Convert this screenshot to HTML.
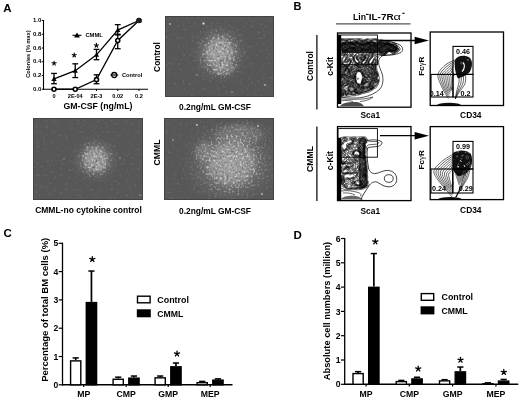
<!DOCTYPE html>
<html><head><meta charset="utf-8"><style>
html,body{margin:0;padding:0;background:#fff;}
svg{display:block;filter:grayscale(1);}
svg text{font-family:"Liberation Sans",sans-serif;font-weight:bold;fill:#000;}
</style></head><body>
<svg width="520" height="400" viewBox="0 0 520 400">
<text x="3.3" y="11.6" font-size="11.5" text-anchor="start">A</text>
<text x="293.6" y="9.8" font-size="11" text-anchor="start">B</text>
<text x="3.6" y="236.8" font-size="11.5" text-anchor="start">C</text>
<text x="293.6" y="239" font-size="11.5" text-anchor="start">D</text>
<line x1="43.5" y1="20" x2="43.5" y2="89.8" stroke="#000" stroke-width="1.1"/>
<line x1="43" y1="89.25" x2="148" y2="89.25" stroke="#000" stroke-width="1.1"/>
<line x1="41.8" y1="89.25" x2="43.5" y2="89.25" stroke="#000" stroke-width="1"/>
<text x="41.3" y="90.95" font-size="6" text-anchor="end">0.0</text>
<line x1="41.8" y1="75.5" x2="43.5" y2="75.5" stroke="#000" stroke-width="1"/>
<text x="41.3" y="77.2" font-size="6" text-anchor="end">0.2</text>
<line x1="41.8" y1="61.75" x2="43.5" y2="61.75" stroke="#000" stroke-width="1"/>
<text x="41.3" y="63.45" font-size="6" text-anchor="end">0.4</text>
<line x1="41.8" y1="48.0" x2="43.5" y2="48.0" stroke="#000" stroke-width="1"/>
<text x="41.3" y="49.7" font-size="6" text-anchor="end">0.6</text>
<line x1="41.8" y1="34.25" x2="43.5" y2="34.25" stroke="#000" stroke-width="1"/>
<text x="41.3" y="35.95" font-size="6" text-anchor="end">0.8</text>
<line x1="41.8" y1="20.5" x2="43.5" y2="20.5" stroke="#000" stroke-width="1"/>
<text x="41.3" y="22.2" font-size="6" text-anchor="end">1.0</text>
<line x1="54" y1="89.25" x2="54" y2="91" stroke="#000" stroke-width="1"/>
<text x="54" y="97.6" font-size="5.6" text-anchor="middle">0</text>
<line x1="75.25" y1="89.25" x2="75.25" y2="91" stroke="#000" stroke-width="1"/>
<text x="75.25" y="97.6" font-size="5.6" text-anchor="middle">2E-04</text>
<line x1="96.5" y1="89.25" x2="96.5" y2="91" stroke="#000" stroke-width="1"/>
<text x="96.5" y="97.6" font-size="5.6" text-anchor="middle">2E-3</text>
<line x1="117.75" y1="89.25" x2="117.75" y2="91" stroke="#000" stroke-width="1"/>
<text x="117.75" y="97.6" font-size="5.6" text-anchor="middle">0.02</text>
<line x1="139" y1="89.25" x2="139" y2="91" stroke="#000" stroke-width="1"/>
<text x="139" y="97.6" font-size="5.6" text-anchor="middle">0.2</text>
<text x="97.9" y="109.1" font-size="9.2" text-anchor="middle" textLength="69" lengthAdjust="spacingAndGlyphs">GM-CSF (ng/mL)</text>
<text x="30.4" y="54.1" font-size="5.7" text-anchor="middle" transform="rotate(-90 30.4 54.1)">Colonies (% max)</text>
<line x1="54" y1="83.75" x2="54" y2="73.4375" stroke="#000" stroke-width="1.3"/>
<line x1="51.1" y1="83.75" x2="56.9" y2="83.75" stroke="#000" stroke-width="1.3"/>
<line x1="51.1" y1="73.4375" x2="56.9" y2="73.4375" stroke="#000" stroke-width="1.3"/>
<line x1="75.25" y1="77.5625" x2="75.25" y2="63.8125" stroke="#000" stroke-width="1.3"/>
<line x1="72.35" y1="77.5625" x2="78.15" y2="77.5625" stroke="#000" stroke-width="1.3"/>
<line x1="72.35" y1="63.8125" x2="78.15" y2="63.8125" stroke="#000" stroke-width="1.3"/>
<line x1="96.5" y1="59.6875" x2="96.5" y2="49.375" stroke="#000" stroke-width="1.3"/>
<line x1="93.6" y1="59.6875" x2="99.4" y2="59.6875" stroke="#000" stroke-width="1.3"/>
<line x1="93.6" y1="49.375" x2="99.4" y2="49.375" stroke="#000" stroke-width="1.3"/>
<line x1="96.5" y1="83.75" x2="96.5" y2="74.8125" stroke="#000" stroke-width="1.3"/>
<line x1="93.6" y1="83.75" x2="99.4" y2="83.75" stroke="#000" stroke-width="1.3"/>
<line x1="93.6" y1="74.8125" x2="99.4" y2="74.8125" stroke="#000" stroke-width="1.3"/>
<line x1="117.75" y1="34.9375" x2="117.75" y2="24.625" stroke="#000" stroke-width="1.3"/>
<line x1="114.85" y1="34.9375" x2="120.65" y2="34.9375" stroke="#000" stroke-width="1.3"/>
<line x1="114.85" y1="24.625" x2="120.65" y2="24.625" stroke="#000" stroke-width="1.3"/>
<line x1="117.75" y1="48.6875" x2="117.75" y2="34.25" stroke="#000" stroke-width="1.3"/>
<line x1="114.85" y1="48.6875" x2="120.65" y2="48.6875" stroke="#000" stroke-width="1.3"/>
<line x1="114.85" y1="34.25" x2="120.65" y2="34.25" stroke="#000" stroke-width="1.3"/>
<polyline fill="none" stroke="#000" stroke-width="1.3" points="54,78.94 75.25,70.69 96.5,54.88 117.75,30.12 139,20.50"/>
<polyline fill="none" stroke="#000" stroke-width="1.3" points="54,89.25 75.25,89.25 96.5,79.62 117.75,40.44 139,20.50"/>
<circle cx="54" cy="89.25" r="2.0" fill="#fff" stroke="#000" stroke-width="1.6"/>
<circle cx="75.25" cy="89.25" r="2.0" fill="#fff" stroke="#000" stroke-width="1.6"/>
<circle cx="96.5" cy="79.625" r="2.0" fill="#fff" stroke="#000" stroke-width="1.6"/>
<circle cx="117.75" cy="40.4375" r="2.0" fill="#fff" stroke="#000" stroke-width="1.6"/>
<circle cx="139" cy="20.5" r="2.0" fill="#fff" stroke="#000" stroke-width="1.6"/>
<path d="M54,76.3375 L56.6,80.8875 L51.4,80.8875 Z" fill="#000"/>
<path d="M75.25,68.0875 L77.85,72.6375 L72.65,72.6375 Z" fill="#000"/>
<path d="M96.5,52.275 L99.1,56.825 L93.9,56.825 Z" fill="#000"/>
<path d="M117.75,27.525 L120.35,32.075 L115.15,32.075 Z" fill="#000"/>
<path d="M139,17.9 L141.6,22.45 L136.4,22.45 Z" fill="#000"/>
<circle cx="139" cy="20.5" r="2.6" fill="#222"/>
<path d="M54.10,63.30 L54.10,61.20 M54.10,63.30 L56.10,62.65 M54.10,63.30 L55.33,65.00 M54.10,63.30 L52.87,65.00 M54.10,63.30 L52.10,62.65 " stroke="#000" stroke-width="1.1" stroke-linecap="round" fill="none"/>
<path d="M74.20,55.20 L74.20,53.10 M74.20,55.20 L76.20,54.55 M74.20,55.20 L75.43,56.90 M74.20,55.20 L72.97,56.90 M74.20,55.20 L72.20,54.55 " stroke="#000" stroke-width="1.1" stroke-linecap="round" fill="none"/>
<path d="M96.40,45.40 L96.40,43.30 M96.40,45.40 L98.40,44.75 M96.40,45.40 L97.63,47.10 M96.40,45.40 L95.17,47.10 M96.40,45.40 L94.40,44.75 " stroke="#000" stroke-width="1.1" stroke-linecap="round" fill="none"/>
<line x1="72.5" y1="35.3" x2="81.5" y2="35.3" stroke="#000" stroke-width="1.1"/>
<path d="M77,32.4 L79.9,37.474999999999994 L74.1,37.474999999999994 Z" fill="#000"/>
<text x="85.4" y="37.1" font-size="5.8" text-anchor="start">CMML</text>
<line x1="110.3" y1="75" x2="118.2" y2="75" stroke="#000" stroke-width="1.1"/>
<circle cx="114.25" cy="75" r="2.5" fill="#fff" stroke="#000" stroke-width="1.3"/>
<line x1="112.2" y1="75" x2="116.3" y2="75" stroke="#000" stroke-width="1.2"/>
<text x="122" y="77.1" font-size="5.7" text-anchor="start">Control</text>
<defs>
<filter id="spkW" x="0" y="0" width="520" height="400" filterUnits="userSpaceOnUse" color-interpolation-filters="sRGB">
 <feTurbulence type="fractalNoise" baseFrequency="0.45" numOctaves="2" seed="3" result="t"/>
 <feColorMatrix in="t" type="matrix" values="0 0 0 0 0.82  0 0 0 0 0.82  0 0 0 0 0.82  4 0 0 0 -2.1" result="w"/>
 <feComposite in="w" in2="SourceGraphic" operator="in"/>
</filter>
<filter id="spkD" x="0" y="0" width="520" height="400" filterUnits="userSpaceOnUse" color-interpolation-filters="sRGB">
 <feTurbulence type="fractalNoise" baseFrequency="0.45" numOctaves="2" seed="3" result="t"/>
 <feColorMatrix in="t" type="matrix" values="0 0 0 0 0.35  0 0 0 0 0.35  0 0 0 0 0.35  -4 0 0 0 1.7" result="w"/>
 <feComposite in="w" in2="SourceGraphic" operator="in"/>
</filter>
<filter id="spkB" x="0" y="0" width="520" height="400" filterUnits="userSpaceOnUse" color-interpolation-filters="sRGB">
 <feTurbulence type="fractalNoise" baseFrequency="0.35" numOctaves="2" seed="9" result="t"/>
 <feColorMatrix in="t" type="matrix" values="0 0 0 0 0.75  0 0 0 0 0.75  0 0 0 0 0.75  0 6 0 0 -3.6" result="w"/>
 <feComposite in="w" in2="SourceGraphic" operator="in"/>
</filter>
<radialGradient id="glow"><stop offset="0" stop-color="#a4a4a4"/><stop offset="0.6" stop-color="#909090"/><stop offset="1" stop-color="#585858" stop-opacity="0"/></radialGradient>
<radialGradient id="mask"><stop offset="0" stop-color="#fff" stop-opacity="1"/><stop offset="0.6" stop-color="#fff" stop-opacity="0.8"/><stop offset="1" stop-color="#fff" stop-opacity="0"/></radialGradient>
</defs>
<defs><clipPath id="cg1"><rect x="165" y="16" width="109" height="81"/></clipPath></defs>
<rect x="165" y="16" width="109" height="81" fill="#575757"/>
<g clip-path="url(#cg1)">
<rect x="165" y="16" width="109" height="81" fill="#fff" filter="url(#spkB)" opacity="0.12"/>
<ellipse cx="219.5" cy="53" rx="32.0" ry="33.0" fill="url(#mask)" opacity="0.35" filter="url(#spkW)"/>
<ellipse cx="219.5" cy="53" rx="30.0" ry="30.799999999999997" fill="url(#glow)" opacity="0.25"/>
<ellipse cx="219.5" cy="53" rx="20" ry="22" fill="url(#glow)" opacity="1.0"/>
<ellipse cx="223" cy="68" rx="15" ry="10" fill="url(#glow)" opacity="0.55"/>
<ellipse cx="219.5" cy="53" rx="22.0" ry="24.200000000000003" fill="url(#mask)" opacity="1.0" filter="url(#spkW)"/>
<ellipse cx="219.5" cy="53" rx="18.0" ry="19.8" fill="url(#mask)" opacity="0.8" filter="url(#spkD)"/>
<ellipse cx="223" cy="68" rx="16.5" ry="11.0" fill="url(#mask)" opacity="0.55" filter="url(#spkW)"/>
<ellipse cx="223" cy="68" rx="13.5" ry="9.0" fill="url(#mask)" opacity="0.44000000000000006" filter="url(#spkD)"/>
<circle cx="203.5" cy="23.5" r="1.2" fill="#c8c8c8"/>
<circle cx="170" cy="24" r="0.9" fill="#b4b4b4"/>
<circle cx="166" cy="37" r="0.8" fill="#aaaaaa"/>
<circle cx="265" cy="85" r="0.9" fill="#b4b4b4"/>
<circle cx="232" cy="92" r="0.8" fill="#aaaaaa"/>
<circle cx="197" cy="75" r="0.8" fill="#aaaaaa"/>
</g>
<rect x="165.5" y="16.5" width="108" height="80" fill="none" stroke="#444" stroke-width="1"/>
<defs><clipPath id="cg2"><rect x="33" y="118" width="110" height="82"/></clipPath></defs>
<rect x="33" y="118" width="110" height="82" fill="#575757"/>
<g clip-path="url(#cg2)">
<rect x="33" y="118" width="110" height="82" fill="#fff" filter="url(#spkB)" opacity="0.12"/>
<ellipse cx="95.5" cy="159.5" rx="26.400000000000002" ry="25.5" fill="url(#mask)" opacity="0.35" filter="url(#spkW)"/>
<ellipse cx="95.5" cy="159.5" rx="24.75" ry="23.799999999999997" fill="url(#glow)" opacity="0.25"/>
<ellipse cx="95.5" cy="159.5" rx="16.5" ry="17" fill="url(#glow)" opacity="1.0"/>
<ellipse cx="99" cy="166" rx="9" ry="8" fill="url(#glow)" opacity="0.5"/>
<ellipse cx="95.5" cy="159.5" rx="18.150000000000002" ry="18.700000000000003" fill="url(#mask)" opacity="1.0" filter="url(#spkW)"/>
<ellipse cx="95.5" cy="159.5" rx="14.85" ry="15.3" fill="url(#mask)" opacity="0.8" filter="url(#spkD)"/>
<ellipse cx="99" cy="166" rx="9.9" ry="8.8" fill="url(#mask)" opacity="0.5" filter="url(#spkW)"/>
<ellipse cx="99" cy="166" rx="8.1" ry="7.2" fill="url(#mask)" opacity="0.4" filter="url(#spkD)"/>
<circle cx="120" cy="158" r="0.8" fill="#aaaaaa"/>
<circle cx="64" cy="159" r="0.7" fill="#969696"/>
<circle cx="140" cy="195" r="0.8" fill="#a0a0a0"/>
</g>
<rect x="33.5" y="118.5" width="109" height="81" fill="none" stroke="#444" stroke-width="1"/>
<defs><clipPath id="cg3"><rect x="164" y="118" width="110" height="82"/></clipPath></defs>
<rect x="164" y="118" width="110" height="82" fill="#575757"/>
<g clip-path="url(#cg3)">
<rect x="164" y="118" width="110" height="82" fill="#fff" filter="url(#spkB)" opacity="0.12"/>
<ellipse cx="231" cy="163" rx="54.400000000000006" ry="48.0" fill="url(#mask)" opacity="0.35" filter="url(#spkW)"/>
<ellipse cx="231" cy="163" rx="51.0" ry="44.8" fill="url(#glow)" opacity="0.25"/>
<ellipse cx="231" cy="163" rx="34" ry="32" fill="url(#glow)" opacity="1.0"/>
<ellipse cx="240" cy="134" rx="32" ry="14" fill="url(#glow)" opacity="0.35"/>
<ellipse cx="204" cy="152" rx="12" ry="14" fill="url(#glow)" opacity="0.4"/>
<ellipse cx="231" cy="163" rx="37.400000000000006" ry="35.2" fill="url(#mask)" opacity="1.0" filter="url(#spkW)"/>
<ellipse cx="231" cy="163" rx="30.6" ry="28.8" fill="url(#mask)" opacity="0.8" filter="url(#spkD)"/>
<ellipse cx="240" cy="134" rx="35.2" ry="15.400000000000002" fill="url(#mask)" opacity="0.35" filter="url(#spkW)"/>
<ellipse cx="240" cy="134" rx="28.8" ry="12.6" fill="url(#mask)" opacity="0.27999999999999997" filter="url(#spkD)"/>
<ellipse cx="204" cy="152" rx="13.200000000000001" ry="15.400000000000002" fill="url(#mask)" opacity="0.4" filter="url(#spkW)"/>
<ellipse cx="204" cy="152" rx="10.8" ry="12.6" fill="url(#mask)" opacity="0.32000000000000006" filter="url(#spkD)"/>
<circle cx="197" cy="125" r="1" fill="#bebebe"/>
<circle cx="173" cy="140" r="0.8" fill="#aaaaaa"/>
<circle cx="262" cy="194" r="1" fill="#b4b4b4"/>
<circle cx="258" cy="126" r="1" fill="#bebebe"/>
</g>
<rect x="164.5" y="118.5" width="109" height="81" fill="none" stroke="#444" stroke-width="1"/>
<text x="160" y="57" font-size="8.4" text-anchor="middle" transform="rotate(-90 160 57)">Control</text>
<text x="159.5" y="152.5" font-size="8.6" text-anchor="middle" transform="rotate(-90 159.5 152.5)">CMML</text>
<text x="215" y="109.8" font-size="8.4" text-anchor="middle">0.2ng/mL GM-CSF</text>
<text x="88.5" y="213.4" font-size="8.5" text-anchor="middle">CMML-no cytokine control</text>
<text x="215" y="213.6" font-size="8.4" text-anchor="middle">0.2ng/mL GM-CSF</text>
<text x="353" y="20.1" font-size="8.9" textLength="13" lengthAdjust="spacingAndGlyphs">Lin</text>
<line x1="366" y1="14.4" x2="368.6" y2="14.4" stroke="#000" stroke-width="1.1"/>
<text x="368.8" y="20.1" font-size="9.2" textLength="24.8" lengthAdjust="spacingAndGlyphs">IL-7R</text>
<text x="393.6" y="20.1" font-size="9" font-weight="normal" textLength="7.4" lengthAdjust="spacingAndGlyphs" style="font-weight:normal">α</text>
<line x1="402.3" y1="13.3" x2="404.6" y2="13.3" stroke="#000" stroke-width="1.1"/>
<line x1="336" y1="23.8" x2="410.5" y2="23.8" stroke="#555" stroke-width="1.3"/>
<line x1="316.9" y1="35" x2="316.9" y2="109.5" stroke="#000" stroke-width="1.2"/>
<line x1="316.9" y1="126.5" x2="316.9" y2="201" stroke="#000" stroke-width="1.2"/>
<text x="313" y="66" font-size="8.4" text-anchor="middle" transform="rotate(-90 313 66)">Control</text>
<text x="313" y="159" font-size="8.6" text-anchor="middle" transform="rotate(-90 313 159)">CMML</text>
<text x="332.6" y="66.3" font-size="8.6" text-anchor="middle" transform="rotate(-90 332.6 66.3)">c-Kit</text>
<text x="370.3" y="118.2" font-size="8.4" text-anchor="middle">Sca1</text>
<text x="470.8" y="118.2" font-size="8.4" text-anchor="middle">CD34</text>
<text x="332.6" y="160.6" font-size="8.6" text-anchor="middle" transform="rotate(-90 332.6 160.6)">c-Kit</text>
<text x="370.3" y="214" font-size="8.4" text-anchor="middle">Sca1</text>
<text x="470.8" y="212.8" font-size="8.4" text-anchor="middle">CD34</text>
<text x="0" y="0" font-size="8.1" text-anchor="middle" transform="translate(423.9 66.2) rotate(-90)">Fc<tspan font-family="Liberation Serif" font-weight="normal" font-size="8.8">γ</tspan>R</text>
<text x="0" y="0" font-size="8.1" text-anchor="middle" transform="translate(423.9 159.79579999999999) rotate(-90)">Fc<tspan font-family="Liberation Serif" font-weight="normal" font-size="8.8">γ</tspan>R</text>
<defs><clipPath id="clipL0"><rect x="338" y="36.6" width="73" height="70"/></clipPath></defs>
<g clip-path="url(#clipL0)"><path d="M340,106.3 C342,102.5 350,101.5 357,102 C361,103 363,104.5 364,106.3 Z" fill="#000" opacity="0.7"/><path d="M342,42 C360,40.5 380,41.5 392,44 C398,46 399,49.5 394,51.5 C385,53.5 365,53 342,53 Z" fill="#000" opacity="0.75"/><path d="M341,66 L376,64 L377,78 L376,86 L369,91 L355,95 L341,96 Z" fill="#000" opacity="0.4"/><ellipse cx="359" cy="78" rx="3" ry="6" fill="#fff"/><ellipse cx="347" cy="88" rx="3" ry="2" fill="#fff"/><path d="M338.0,40.0 338.5,39.7 339.5,38.7 340.5,38.5 344.8,38.8 351.8,38.6 354.5,38.8 357.0,38.6 360.5,38.6 361.5,38.8 363.6,39.5 364.2,39.5 365.0,39.4 366.5,38.8 367.5,38.6 368.5,38.7 370.0,39.2 370.8,39.2 373.5,38.6 376.5,38.7 377.5,39.0 379.2,39.7 381.0,39.7 383.0,40.2 385.0,40.4 388.5,41.5 390.2,41.9 392.5,42.0 394.0,42.5 396.0,43.6 397.5,45.0 399.9,48.0 400.1,48.5 400.2,49.0 399.7,50.2 398.8,51.3 395.2,53.9 394.0,54.6 393.2,54.7 391.8,54.5 389.5,55.0 388.8,54.9 387.8,54.6 387.5,54.6 386.2,55.3 385.2,55.5 381.5,55.5 379.8,55.3 379.3,55.5 379.0,55.7 378.6,57.0 377.5,58.2 377.0,59.3 376.9,60.5 376.9,65.0 376.5,67.2 377.2,70.6 378.7,74.5 378.9,76.5 379.4,78.2 379.4,79.7 379.1,81.7 378.1,84.7 376.4,87.5 375.5,88.1 374.0,88.9 372.0,90.4 369.2,91.9 361.5,94.0 358.8,94.9 356.5,95.3 354.5,95.9 352.0,95.8 350.0,96.3 346.8,96.4 344.2,97.0 342.5,97.3 341.2,97.0 339.8,96.0 339.4,95.5 339.4,94.7 339.8,93.5 340.7,92.2 339.9,91.0 339.0,88.0 339.2,85.5 338.8,84.0 338.7,82.7 339.0,76.0 338.9,74.5 339.0,72.3 338.5,69.2 338.0,67.0M343.3,61.0 343.8,60.7 344.8,59.7 345.4,58.7 345.5,57.2 346.2,56.0 346.1,55.5 345.8,55.2 345.5,55.2 345.2,55.5 344.9,56.0 344.6,57.0 343.2,58.1 342.6,59.2 342.5,60.0 342.6,60.5 343.0,60.9 343.3,61.0ZM370.6,63.5 372.1,62.0 373.8,58.5 374.7,57.2 374.9,56.5 374.5,55.9 374.0,55.8 373.3,56.2 372.3,57.7 370.7,59.2 369.5,61.2 369.2,62.2 369.4,63.2 369.8,63.6 370.0,63.7 370.6,63.5ZM366.5,58.5 367.3,57.2 367.4,56.7 367.0,56.3 366.7,56.5 366.4,57.0 366.2,58.5 366.5,58.5ZM357.8,63.0 358.2,62.7 358.5,62.2 358.5,61.5 357.2,60.3 356.8,59.7 356.2,58.7 355.8,57.3 355.5,57.0 355.2,56.9 354.8,57.0 354.5,57.3 354.5,58.0 354.7,59.7 355.1,60.7 355.6,61.5 356.8,62.6 357.2,62.9 357.8,63.0ZM363.7,63.7 364.2,63.2 365.6,61.5 365.8,60.7 365.8,59.9 365.5,59.8 365.0,60.1 362.6,61.7 362.2,62.0 362.1,62.7 362.5,63.5 363.0,63.8 363.7,63.7ZM338.0,66.6 338.4,64.5 338.3,61.5 338.0,60.7M347.8,65.2 348.5,64.6 349.7,62.7 350.0,61.5 350.0,61.1 349.8,60.8 349.2,60.7 348.9,61.0 348.1,62.5 346.9,64.0 346.8,64.5 347.0,65.0 347.3,65.2 347.8,65.2ZM347.5,73.7 348.1,72.0 348.1,70.7 347.8,69.5 347.4,69.2 347.0,69.1 346.5,69.3 346.2,70.0 346.4,70.5 347.1,71.7 347.4,72.5 347.2,72.9 346.7,73.5 346.8,73.7 347.2,73.8 347.5,73.7ZM360.8,84.2 361.0,83.7 362.2,79.0 363.0,77.5 363.1,77.0 361.0,72.4 360.5,72.0 359.2,71.5 358.2,71.4 357.5,71.7 357.0,72.2 355.7,75.0 355.8,75.6 356.2,77.0 356.0,78.7 356.3,79.7 356.4,81.7 356.8,82.5 357.5,83.2 360.0,84.3 360.5,84.4 360.8,84.2ZM358.2,79.2 357.4,79.2 357.3,79.0 357.3,78.7 357.8,78.3 358.5,78.4 358.8,78.7 358.7,79.0 358.2,79.2ZM366.6,86.5 367.2,86.3 367.8,86.0 368.7,84.7 368.9,84.2 368.9,83.7 368.5,83.2 367.8,82.7 367.0,82.4 366.2,82.5 365.6,83.0 364.1,84.7 363.6,85.7 363.7,86.2 364.5,86.6 365.2,86.7 366.6,86.5ZM352.3,91.2 353.0,90.8 353.5,90.2 354.0,89.5 354.1,88.7 353.5,88.0 352.5,87.2 351.5,87.0 350.8,87.1 350.0,87.7 349.7,88.5 349.7,89.2 350.0,90.5 350.3,91.0 350.8,91.3 351.5,91.4 352.3,91.2ZM342.5,96.2 341.8,96.4 341.2,96.2 340.6,95.7 340.3,95.2 340.3,94.5 340.5,93.7 341.8,92.2 341.6,91.7 340.8,91.0 340.4,90.2 340.1,88.0 340.4,86.5 340.4,86.0 339.6,84.0 339.5,83.2 339.6,80.7 339.9,79.2 339.7,77.5 340.0,75.5 339.8,71.7 339.6,69.5 338.9,67.0 339.3,65.0 339.2,63.0 339.5,60.7 339.2,59.0 339.2,57.0 339.4,55.5 339.1,53.7 339.1,51.2 338.9,49.5 339.1,48.0 339.6,46.2 339.5,45.6 338.7,45.0 338.5,44.0 339.4,41.0 340.0,39.5 340.8,39.3 346.0,39.8 349.5,39.4 351.5,39.4 353.2,39.7 355.8,39.9 357.5,39.5 359.2,39.5 360.5,39.6 362.2,40.3 363.5,40.4 364.8,40.2 367.5,39.3 368.5,39.4 369.8,40.1 371.8,40.0 373.0,39.5 373.8,39.4 376.2,39.5 377.2,39.7 378.8,40.7 381.2,40.6 381.8,40.9 382.5,41.6 382.8,41.7 383.8,41.2 384.5,41.2 384.9,41.5 385.5,42.1 387.2,42.1 388.5,42.4 391.2,43.7 393.2,43.5 394.2,43.6 395.5,44.2 396.7,45.2 397.4,46.2 398.0,47.7 399.1,49.0 399.0,49.7 398.8,50.2 398.2,50.7 394.2,53.6 393.5,53.8 392.5,53.6 391.7,53.2 389.9,51.7 389.0,51.5 388.2,51.7 387.8,52.0 387.3,52.5 386.5,54.0 385.8,54.7 384.2,54.9 382.2,54.4 379.2,54.5 378.5,54.8 377.4,55.5 377.0,56.0 376.7,56.7 376.2,57.1 376.1,56.2 375.7,55.7 374.5,55.1 373.8,55.0 373.0,55.6 371.8,57.7 370.3,59.0 369.0,61.0 368.7,62.2 369.0,63.5 369.5,64.2 369.8,64.4 370.2,64.4 370.8,64.0 372.6,62.0 374.5,58.5 375.5,57.7 375.8,57.5 376.0,57.6 376.1,60.7 376.1,64.5 375.6,66.7 375.6,68.0 376.2,70.5 377.9,74.0 378.1,74.7 378.1,75.5 377.9,77.0 377.2,78.2 377.4,78.5 378.4,79.2 378.6,80.2 378.3,82.0 377.0,84.7 376.5,85.6 375.3,87.0 372.2,89.4 370.2,90.2 369.0,91.0 367.5,91.3 365.8,92.1 363.5,92.3 358.8,94.2 357.8,94.2 356.8,93.7 356.1,93.7 355.4,94.7 354.5,95.1 353.8,95.1 352.0,94.5 350.5,94.6 349.5,94.0 349.0,93.9 347.5,95.1 346.5,95.4 345.8,95.4 345.2,95.0 344.8,92.6 344.5,92.2 344.2,92.2 343.7,93.5 343.7,95.5 343.2,95.9 342.5,96.2ZM348.1,65.7 348.6,65.2 350.2,62.7 350.6,61.2 350.5,60.7 350.2,60.3 349.5,60.0 348.8,60.3 347.8,62.0 347.2,62.5 346.8,62.8 344.5,62.7 343.6,62.5 343.7,62.0 344.1,61.2 345.9,59.0 346.8,56.5 346.9,55.7 346.6,55.0 346.2,54.6 345.8,54.5 345.0,54.9 344.4,55.5 343.8,56.6 342.7,57.7 341.7,59.5 341.6,60.0 342.5,61.7 343.2,62.5 343.4,63.7 343.9,64.5 344.5,64.8 345.8,65.1 347.2,65.8 347.8,65.8 348.1,65.7ZM363.4,64.5 364.2,64.1 366.2,61.5 366.7,59.7 368.1,57.2 368.3,56.7 368.1,56.0 367.5,55.3 366.8,55.2 366.1,55.7 365.7,56.5 365.6,58.2 365.1,59.2 363.8,60.5 362.0,61.6 361.6,62.0 361.6,62.7 362.2,64.0 362.8,64.4 363.4,64.5ZM358.3,63.2 359.0,62.2 359.2,61.7 359.2,61.2 358.8,60.7 357.5,59.9 356.8,59.0 356.4,58.0 356.5,56.2 356.2,56.0 355.8,56.0 354.2,56.5 353.9,56.7 353.8,57.2 354.4,60.2 354.8,61.2 355.4,62.0 357.0,63.2 357.8,63.4 358.3,63.2ZM372.9,68.2 373.2,68.0 373.3,67.5 373.0,66.7 372.5,66.4 371.2,66.2 371.8,68.0 372.2,68.3 372.9,68.2ZM347.6,75.0 348.8,74.7 348.6,70.7 348.4,69.7 348.0,69.0 347.5,68.7 346.8,68.6 346.2,68.8 345.9,69.2 345.7,69.7 345.6,71.2 344.6,72.2 344.3,73.0 344.7,73.5 346.5,74.8 347.0,75.0 347.6,75.0ZM361.0,85.5 361.5,85.2 361.6,83.0 362.9,78.7 363.5,78.2 364.7,78.2 364.8,78.0 364.5,77.2 363.2,75.9 362.5,74.7 361.8,72.5 361.5,71.9 360.8,71.4 358.8,70.9 358.0,70.9 356.8,71.5 356.1,72.2 355.3,75.0 355.6,77.0 355.3,79.0 355.7,80.2 356.1,82.2 356.7,83.2 358.0,84.2 361.0,85.5ZM370.7,76.5 371.0,76.0 371.1,75.5 370.8,74.7 370.0,74.1 369.2,74.2 369.0,74.5 369.0,75.0 369.4,76.0 370.0,76.6 370.2,76.6 370.7,76.5ZM373.2,79.5 372.6,79.0 372.0,78.6 371.6,78.7 371.4,79.0 371.5,79.2 372.0,79.4 373.0,79.5 373.2,79.5ZM366.1,79.2 365.8,78.9 365.5,79.0 365.8,79.2 366.1,79.2ZM367.1,87.2 368.0,87.0 368.5,86.5 369.5,84.7 369.6,83.5 369.2,82.3 369.0,82.1 367.0,81.9 366.0,82.1 365.3,82.7 362.5,85.7 362.6,86.0 363.0,86.5 364.5,87.4 365.2,87.4 367.1,87.2ZM347.5,83.2 347.8,82.7 347.5,82.5 347.2,82.6 347.1,83.0 347.2,83.3 347.5,83.2ZM352.3,84.0 352.6,83.7 352.6,83.5 352.5,83.2 351.8,82.9 351.5,83.0 351.2,83.2 351.4,83.7 351.7,84.0 352.3,84.0ZM352.7,91.7 353.2,91.3 354.7,89.5 354.9,89.0 354.9,88.5 354.4,88.0 352.2,86.5 351.2,86.2 350.2,86.4 349.4,87.2 348.9,88.5 349.0,89.2 349.8,91.3 350.2,91.7 350.8,91.9 351.8,91.9 352.7,91.7ZM342.0,96.0 341.5,96.0 341.0,95.8 340.7,95.5 340.6,95.0 340.6,94.2 340.8,93.7 341.9,92.7 342.2,92.2 342.0,91.7 341.0,90.9 340.6,90.2 340.4,88.2 341.0,86.5 340.0,84.2 339.7,83.5 339.9,80.7 340.4,79.0 340.0,77.5 340.2,75.5 339.8,69.2 339.2,67.0 339.3,66.5 339.7,65.2 339.4,63.2 339.5,62.2 339.8,61.4 340.2,60.6 340.8,60.4 341.2,60.5 341.8,61.0 342.6,62.7 343.0,64.0 343.7,64.7 344.8,65.3 347.8,66.1 348.2,65.9 348.5,65.7 350.2,63.2 350.6,62.0 350.8,61.0 350.7,60.5 350.2,60.0 349.2,59.8 348.5,60.1 347.7,61.7 347.0,62.3 345.8,62.0 344.8,62.2 344.3,62.0 344.3,61.7 344.4,61.2 346.1,59.0 347.2,56.5 347.1,55.5 346.2,54.0 345.8,54.1 344.4,55.2 343.5,56.4 342.5,57.2 341.8,58.6 341.2,58.9 340.8,58.9 340.5,58.9 340.2,58.7 340.0,57.0 340.1,55.7 339.5,54.3 339.3,53.5 339.3,51.0 339.2,49.2 339.4,48.0 339.9,46.5 340.1,44.7 340.3,44.2 339.5,44.4 339.2,44.2 339.2,43.7 339.6,42.5 339.9,40.7 340.2,39.9 340.8,39.7 342.0,39.9 343.8,39.9 345.5,40.2 347.8,40.1 349.2,39.7 350.2,39.7 351.8,39.8 353.2,40.2 354.8,40.2 356.2,40.7 357.9,40.0 359.5,39.8 360.2,39.9 361.8,40.5 363.5,40.7 364.5,40.6 367.0,39.7 367.8,39.6 368.3,39.7 368.8,40.2 368.7,40.5 368.1,41.2 368.0,41.7 368.2,42.0 369.0,42.2 369.5,41.9 369.7,40.7 370.1,40.5 372.0,40.3 373.8,39.7 375.0,39.8 376.2,39.8 377.2,40.1 378.5,41.1 381.0,41.0 381.5,41.2 382.2,42.0 382.8,42.2 384.2,41.8 385.2,42.5 387.0,42.4 388.0,42.6 389.2,43.0 390.8,43.9 391.5,44.1 394.5,44.1 395.5,44.5 396.3,45.2 396.8,46.0 397.5,47.5 398.6,49.0 398.7,49.7 398.0,50.5 397.0,51.1 394.2,53.2 393.5,53.4 392.8,53.3 392.2,53.0 391.2,52.0 390.3,51.5 389.8,51.2 389.0,51.2 388.2,51.3 387.5,51.8 386.2,53.9 385.8,54.4 385.2,54.6 384.0,54.6 382.2,54.1 379.5,54.1 378.8,54.3 377.2,54.9 376.0,55.1 375.2,54.9 374.5,54.5 374.4,54.0 375.2,53.1 375.4,52.7 375.2,52.4 374.8,52.3 374.2,52.7 374.0,53.1 371.9,57.2 371.5,57.7 370.1,58.7 368.8,60.7 368.5,61.5 368.5,62.2 368.8,63.5 369.3,64.7 369.3,65.7 369.7,66.2 370.8,67.0 371.7,68.5 372.0,68.6 372.5,68.7 373.1,68.5 373.6,68.0 373.7,67.5 373.6,67.0 373.2,66.4 371.9,65.7 371.1,65.0 370.9,64.7 371.0,64.2 371.5,63.5 373.0,61.7 374.5,59.0 375.2,58.5 375.5,58.6 375.7,59.2 375.8,60.7 375.7,62.5 375.7,64.2 375.3,67.0 375.4,68.5 375.8,70.7 377.0,72.7 377.7,74.2 377.9,75.0 377.6,76.7 377.2,77.2 376.6,77.7 376.5,78.2 376.8,78.7 377.8,79.3 378.2,79.7 378.3,80.7 378.0,82.1 376.2,85.2 375.5,85.6 374.0,85.6 373.8,85.7 374.1,87.2 373.4,88.2 371.8,89.4 370.0,89.7 368.9,90.5 367.5,90.7 366.0,91.6 363.5,91.8 362.0,92.6 360.5,93.0 359.0,93.8 358.2,93.9 357.2,93.4 356.5,93.3 355.2,93.4 355.1,93.5 354.9,94.5 354.2,94.7 352.2,94.0 351.0,94.1 350.5,94.1 349.2,93.0 348.5,93.4 347.8,94.5 347.2,94.9 346.5,95.1 346.0,95.1 345.8,94.9 345.4,94.5 345.0,91.8 344.8,91.3 344.2,91.0 343.9,91.2 343.6,92.0 343.4,93.2 343.4,94.7 343.3,95.2 342.8,95.7 342.0,96.0ZM353.8,51.5 354.0,51.0 353.8,50.4 353.5,50.4 353.4,51.0 353.5,51.5 353.8,51.5ZM368.9,52.5 369.1,52.2 369.1,52.0 369.0,51.8 368.8,51.7 368.4,52.0 368.3,52.2 368.5,52.4 368.9,52.5ZM364.6,66.5 365.0,65.7 365.0,65.2 364.8,64.5 365.0,63.5 365.5,62.7 366.4,61.7 367.1,59.5 368.6,57.0 368.6,56.5 368.4,55.7 368.0,55.1 367.5,54.8 367.0,54.8 366.5,54.9 365.7,55.7 365.4,56.5 365.3,58.2 364.6,59.5 363.5,60.5 361.7,61.5 361.3,62.0 361.4,62.7 362.0,64.0 362.8,64.6 363.9,65.0 364.1,65.2 364.2,66.5 364.6,66.5ZM341.6,55.7 341.5,55.2 341.2,55.3 341.1,55.7 341.2,55.8 341.5,55.8 341.6,55.7ZM358.2,63.5 358.8,63.0 359.3,62.2 359.6,61.7 359.6,61.2 359.2,60.5 357.8,59.9 356.8,58.7 356.6,57.7 357.0,56.2 356.9,55.7 356.8,55.5 356.2,55.5 353.8,56.3 353.6,56.5 353.5,57.0 354.2,60.5 354.7,61.5 355.4,62.2 357.0,63.4 357.8,63.6 358.2,63.5ZM360.3,59.5 360.5,59.0 360.4,58.7 360.0,58.6 359.7,59.0 359.8,59.4 360.0,59.6 360.3,59.5ZM341.6,66.7 341.6,66.2 341.4,66.0 341.0,65.9 340.8,66.1 340.8,66.5 341.0,66.9 341.2,66.9 341.6,66.7ZM349.5,76.5 350.0,76.0 350.0,75.5 349.8,74.7 349.2,73.5 348.8,70.5 348.5,69.5 348.2,68.9 347.8,68.5 347.0,68.4 346.4,68.5 346.0,68.7 345.6,69.2 345.4,70.7 345.1,71.2 343.8,72.5 343.5,73.2 344.0,73.8 345.2,74.3 346.8,75.3 348.0,75.5 349.0,76.4 349.5,76.5ZM351.8,69.2 352.4,68.7 352.4,68.5 352.2,68.3 351.5,68.3 351.0,68.7 351.1,69.0 351.2,69.2 351.8,69.2ZM365.4,88.2 366.2,87.7 368.1,87.2 369.0,86.3 369.6,85.2 369.9,84.2 370.1,81.7 370.0,81.1 369.8,80.9 369.2,80.9 368.2,81.5 366.8,81.6 366.0,81.9 365.2,82.5 363.2,84.7 362.8,85.0 362.2,85.0 362.0,84.8 361.8,84.3 361.7,83.2 363.0,79.2 363.2,78.8 363.5,78.7 364.0,78.7 365.8,79.9 366.5,80.2 366.8,80.2 367.2,80.0 367.3,79.7 367.2,79.2 365.5,78.0 364.6,76.7 363.2,75.5 362.5,74.2 361.8,71.7 361.5,71.3 358.8,70.6 358.0,70.6 354.1,72.2 353.8,72.7 354.0,72.9 355.2,72.9 355.4,73.2 355.0,75.0 355.4,77.2 355.0,79.0 355.5,80.5 355.9,82.2 356.2,83.0 357.5,84.2 359.8,85.2 360.6,86.2 361.8,86.2 362.2,86.3 365.0,88.2 365.4,88.2ZM367.5,72.5 368.0,72.1 368.4,71.5 368.3,71.2 368.1,71.0 367.5,70.8 367.0,71.0 366.7,71.7 366.8,72.2 367.5,72.5ZM373.9,80.2 374.1,79.7 373.8,79.2 371.3,77.5 371.8,75.5 371.6,75.0 371.0,74.2 370.2,73.6 369.2,73.6 368.8,73.8 368.5,74.2 368.5,74.7 369.0,76.1 369.6,77.0 370.9,77.7 370.6,79.2 370.7,79.7 373.5,80.3 373.9,80.2ZM347.4,84.0 348.1,83.5 348.6,82.7 348.5,82.2 348.2,81.9 347.8,81.7 347.2,81.8 346.8,82.2 346.3,83.2 346.3,83.7 346.4,84.0 346.8,84.1 347.4,84.0ZM352.4,84.5 353.1,84.0 353.2,83.5 353.0,83.1 352.4,82.7 351.5,82.5 351.0,82.5 350.6,82.7 350.6,83.2 351.2,84.3 351.8,84.6 352.4,84.5ZM352.4,92.2 353.2,92.1 353.8,91.0 355.1,89.2 355.3,88.5 354.8,87.8 352.0,86.1 351.2,85.7 350.8,85.8 350.0,86.2 349.2,86.9 348.6,88.2 348.6,89.0 349.2,90.5 349.5,91.9 349.8,92.2 352.4,92.2ZM359.0,93.3 358.5,93.4 355.0,92.8 354.4,92.5 354.0,92.0 353.9,91.5 354.1,91.0 355.6,89.0 355.7,88.2 355.2,87.5 353.5,86.7 352.2,85.7 352.2,85.2 353.3,84.5 353.7,84.0 353.6,83.2 352.8,82.5 351.0,82.0 349.5,81.9 348.0,81.3 347.2,81.3 346.4,82.0 345.5,83.3 344.2,83.5 344.0,83.7 343.2,85.6 342.2,86.6 341.2,85.9 340.1,84.0 340.0,83.0 340.3,80.7 340.5,80.1 341.3,79.2 341.4,79.0 340.5,77.9 340.3,77.2 340.5,73.5 340.2,70.2 340.2,68.2 340.2,67.9 340.5,67.8 342.1,67.5 342.3,67.2 342.4,66.7 342.1,66.0 341.8,65.5 340.5,65.3 340.2,65.2 340.0,64.8 339.6,63.2 339.9,62.0 340.5,61.2 341.0,61.0 341.2,61.1 341.6,61.5 342.0,62.2 342.8,64.2 343.4,65.0 344.8,65.6 348.0,66.3 348.5,66.1 348.8,65.8 349.4,64.7 350.4,63.2 351.0,61.0 350.9,60.2 350.5,59.8 349.8,59.5 349.0,59.4 348.5,59.6 348.2,59.8 347.7,61.2 347.2,61.7 346.8,61.8 346.0,61.5 344.9,61.5 345.0,61.0 347.0,58.2 348.1,56.2 347.5,55.6 346.9,54.5 346.9,53.7 347.4,52.2 347.3,51.7 347.0,51.5 346.5,51.5 346.0,52.0 345.7,53.5 345.5,54.0 343.5,55.7 343.0,56.0 342.6,55.7 342.0,54.2 341.5,54.1 340.5,54.6 340.2,54.6 339.8,54.0 339.5,52.7 339.7,50.7 339.5,48.7 340.5,45.2 341.1,44.2 341.2,43.7 341.0,43.2 340.4,42.5 340.3,42.0 340.2,41.2 340.5,40.5 341.0,40.3 342.0,40.5 343.5,40.2 345.0,40.7 346.8,40.4 348.2,40.6 349.2,40.0 350.0,40.0 350.9,40.2 351.1,40.5 350.0,41.2 349.8,41.5 350.1,41.7 350.9,42.0 352.0,42.0 352.8,41.8 353.3,41.0 354.2,40.5 354.8,40.6 355.8,41.2 356.2,41.2 357.2,41.0 358.8,40.3 359.5,40.2 361.5,40.8 363.8,41.1 367.5,39.9 367.8,40.0 368.1,40.2 367.4,41.5 367.4,42.0 368.0,42.3 369.0,42.5 369.8,42.2 370.2,41.0 370.5,40.7 372.5,40.7 373.8,40.5 374.5,40.6 375.8,40.2 376.5,40.1 377.2,40.5 377.5,41.0 377.8,41.8 378.0,41.9 379.5,41.4 380.8,41.3 381.2,41.5 382.2,42.4 382.8,42.6 384.0,42.5 385.2,43.0 386.8,42.7 387.8,42.8 389.2,43.2 391.2,44.4 393.0,44.6 394.5,44.4 395.6,45.0 396.1,45.5 396.6,46.7 398.1,49.0 398.3,49.5 398.2,49.7 397.8,50.2 395.8,51.7 393.8,53.0 393.2,53.1 392.8,52.9 391.8,51.9 390.6,51.2 389.8,50.9 389.0,50.9 388.2,51.0 387.5,51.5 387.0,52.0 386.1,53.7 385.2,54.3 384.0,54.4 382.2,53.7 380.8,53.8 379.2,53.6 377.8,54.2 376.0,54.4 375.5,54.2 375.5,54.0 376.0,53.4 376.2,53.0 376.2,52.5 375.8,52.0 375.5,51.8 375.0,51.7 374.5,51.9 374.0,52.3 372.5,55.2 371.8,57.1 371.2,57.6 369.9,58.5 368.4,61.0 368.2,62.0 368.7,64.5 368.5,65.7 368.8,66.2 370.5,67.3 371.4,68.7 371.8,68.9 372.8,68.9 373.6,68.5 374.1,67.7 373.9,66.7 373.5,66.1 371.8,65.0 371.5,64.7 371.4,64.2 371.7,63.5 373.8,61.2 374.5,59.8 375.0,59.4 375.2,59.6 375.4,60.5 375.2,62.0 375.4,64.0 374.9,67.7 375.1,69.5 375.0,70.7 375.2,71.2 376.5,72.3 377.6,74.5 377.7,75.2 377.5,76.1 377.1,76.7 376.2,77.4 376.0,78.2 376.2,78.7 377.9,80.0 378.1,80.7 377.9,81.7 377.5,82.3 376.8,82.9 374.8,82.4 374.3,82.5 374.1,82.7 373.9,83.2 374.0,84.2 373.8,84.5 372.9,85.0 372.7,85.2 372.8,85.7 373.6,86.7 373.6,87.5 373.1,88.2 372.2,88.9 371.2,89.3 369.8,89.2 368.5,89.9 367.0,90.1 366.2,91.0 365.8,91.2 365.2,91.2 364.2,90.8 363.8,90.8 361.9,92.2 360.0,92.8 359.0,93.3ZM353.9,52.5 354.5,51.9 354.7,51.5 354.6,51.0 354.2,49.9 354.0,49.6 353.5,49.5 353.1,49.7 352.8,50.2 352.6,51.2 352.6,52.0 352.8,52.4 353.0,52.6 353.2,52.7 353.9,52.5ZM368.3,53.5 369.2,53.0 369.7,52.5 369.9,51.5 369.8,51.0 369.5,50.8 369.0,50.8 367.9,51.2 367.5,51.5 367.4,51.7 367.5,52.5 367.8,53.3 368.0,53.5 368.3,53.5ZM362.1,53.5 362.8,53.1 362.9,52.5 362.5,52.0 362.0,51.7 361.2,51.7 360.8,52.2 360.8,53.0 361.2,53.3 362.1,53.5ZM358.1,63.7 358.8,63.3 360.1,61.7 360.2,60.5 360.8,59.7 361.0,59.0 360.8,58.5 360.5,58.2 359.8,58.2 359.3,58.5 359.0,59.6 358.5,59.8 357.8,59.6 357.2,59.0 356.9,58.2 356.9,57.7 357.6,55.5 358.0,55.0 359.0,54.5 359.5,54.0 359.2,53.6 357.8,53.3 357.2,53.4 356.8,53.7 356.3,54.7 355.8,55.2 354.8,55.6 353.3,56.0 353.1,56.5 353.7,58.5 354.0,60.7 354.3,61.5 355.0,62.2 357.0,63.6 357.5,63.7 358.1,63.7ZM364.5,67.5 365.0,67.0 365.6,65.7 365.6,65.0 365.3,64.0 365.4,63.2 366.7,61.7 367.5,59.2 368.0,58.3 369.1,57.0 369.0,56.5 368.5,55.1 367.8,54.0 367.2,54.1 366.5,54.4 366.0,54.8 365.5,55.5 365.2,56.5 365.1,58.2 364.4,59.5 363.0,60.7 361.2,61.3 360.8,61.7 360.8,62.2 361.9,64.2 363.4,65.5 363.5,67.2 363.8,67.5 364.5,67.5ZM348.8,56.0 349.0,55.7 349.0,55.4 348.7,55.7 348.7,56.0 348.8,56.0ZM357.1,68.0 357.2,67.7 357.3,67.2 356.7,66.2 355.6,65.7 354.2,65.4 353.9,65.5 353.8,66.0 354.2,66.7 355.5,67.4 356.5,68.2 357.1,68.0ZM352.0,69.7 352.8,69.3 353.4,68.7 353.5,68.2 353.0,67.6 352.5,67.5 351.8,67.7 351.0,68.0 350.5,68.5 350.4,69.0 350.8,69.5 351.2,69.7 352.0,69.7ZM349.3,77.0 349.8,76.8 350.2,76.5 350.5,75.7 350.2,74.5 349.3,72.7 348.8,69.5 348.5,68.8 348.0,68.4 347.0,68.2 346.2,68.3 345.5,69.0 344.9,71.0 344.2,71.6 343.1,72.2 342.9,72.7 342.9,73.2 343.2,73.7 343.8,74.2 345.2,74.7 346.5,75.6 347.8,76.2 348.5,76.8 349.3,77.0ZM365.8,89.2 366.2,89.0 366.8,88.1 368.5,87.3 369.2,86.4 370.1,84.7 370.7,81.0 371.0,80.5 371.5,80.3 372.0,80.3 373.8,80.8 374.2,80.6 374.4,80.2 374.5,79.7 374.2,79.3 372.8,78.2 372.1,77.5 372.0,76.7 372.5,75.7 372.2,75.0 370.8,73.2 369.2,73.2 368.6,73.0 368.6,72.5 369.1,71.5 369.1,71.0 367.8,69.9 366.8,68.7 366.2,68.6 366.0,68.8 365.9,69.2 366.1,70.7 365.8,71.7 365.8,72.2 366.2,72.7 367.6,73.7 368.2,75.2 369.0,76.9 370.1,78.2 370.0,78.9 369.6,79.7 369.2,80.0 368.5,80.2 368.2,80.1 367.8,79.0 365.8,77.7 364.8,76.5 363.5,75.5 362.9,74.7 362.6,73.7 362.4,71.7 362.7,71.2 363.5,70.8 363.7,70.5 363.5,69.9 363.0,69.2 362.8,69.2 362.5,69.5 362.0,70.5 361.5,70.8 360.2,70.8 358.5,70.4 357.8,70.4 354.8,71.3 352.9,72.2 352.5,72.7 352.5,73.0 352.8,73.4 353.5,73.7 354.5,73.7 354.7,74.0 354.7,75.2 355.2,77.0 354.6,79.2 355.3,80.5 355.7,82.5 356.1,83.2 357.5,84.6 359.0,85.1 359.6,85.5 359.8,86.0 359.8,87.2 360.0,87.7 360.5,87.5 361.5,86.7 362.2,86.7 363.0,87.1 363.8,87.7 364.8,89.1 365.2,89.2 365.8,89.2ZM363.0,84.5 362.5,84.6 362.2,84.5 361.9,84.0 361.9,83.2 362.2,82.0 363.2,79.6 363.5,79.2 363.8,79.2 365.9,80.5 366.4,81.0 366.4,81.2 363.0,84.5ZM343.3,81.7 343.6,81.2 343.3,80.7 342.8,80.4 342.2,80.6 342.1,81.0 342.3,81.5 342.8,81.8 343.3,81.7ZM346.8,94.8 346.0,94.7 345.8,94.4 345.5,92.0 344.8,90.7 344.2,90.3 344.0,90.2 343.8,90.4 343.0,91.6 342.8,91.6 342.5,91.5 341.5,90.9 341.0,90.5 340.8,89.5 340.8,88.5 341.2,87.5 342.2,86.7 342.5,86.6 342.8,86.7 343.2,86.6 344.5,85.5 347.5,84.3 349.0,83.2 349.5,83.0 350.0,83.3 350.5,83.8 350.8,84.5 350.9,85.0 350.7,85.2 349.2,86.4 348.3,88.0 348.2,88.7 348.8,90.2 348.9,91.2 348.8,91.8 348.0,93.1 347.5,94.2 346.8,94.8ZM356.2,86.7 356.7,86.2 356.8,85.7 356.2,85.3 355.8,85.3 355.4,85.5 355.2,86.0 355.3,86.5 355.8,86.8 356.2,86.7ZM351.5,93.5 350.8,93.5 350.5,93.2 350.5,93.0 350.7,92.7 351.2,92.6 352.1,93.0 352.1,93.2 351.5,93.5ZM342.0,95.7 341.5,95.7 341.0,95.4 340.8,95.0 340.9,94.2 341.1,93.7 341.5,93.3 342.5,92.7 342.8,92.7 343.0,93.3 343.1,94.7 342.8,95.3 342.0,95.7ZM356.2,84.5 354.8,84.7 354.4,84.5 354.1,83.2 353.2,82.4 350.8,81.3 349.2,81.2 347.8,80.8 347.2,80.9 346.8,81.1 345.0,82.7 344.2,82.7 344.0,82.5 344.4,81.0 343.8,79.7 344.0,78.5 343.9,78.0 343.6,77.7 343.2,77.7 342.2,78.0 341.5,78.0 341.0,77.8 340.6,77.2 340.7,74.7 340.9,73.2 340.5,70.5 340.5,69.1 340.8,68.5 341.2,68.2 341.8,68.2 342.8,68.4 342.9,68.2 343.0,67.5 342.8,66.2 342.4,65.2 342.0,65.0 340.8,64.9 340.2,64.5 339.8,63.2 340.1,62.2 340.8,61.7 341.2,61.8 341.9,62.7 342.5,64.8 343.2,65.3 344.5,65.8 347.8,66.6 348.5,66.6 349.0,66.2 349.6,64.7 350.8,63.2 351.3,60.7 351.1,60.0 350.2,59.2 349.5,59.0 348.0,58.9 347.8,58.7 348.2,57.5 349.5,56.2 349.8,55.7 349.9,55.0 349.8,53.9 349.5,53.6 349.2,53.6 349.0,53.9 348.2,55.0 347.8,55.1 347.5,54.9 347.3,54.5 347.3,54.0 347.9,52.7 348.0,52.2 347.8,51.5 347.5,51.1 346.8,51.0 345.9,51.5 345.5,52.2 345.4,53.5 345.1,54.0 344.5,54.6 343.5,55.1 343.2,55.1 343.0,55.0 342.2,53.3 342.0,53.0 340.8,53.9 340.2,53.9 340.0,53.6 339.8,53.0 339.8,52.2 340.0,51.3 340.4,50.7 339.8,49.7 339.7,48.7 340.7,45.5 341.6,44.0 341.6,43.2 341.1,42.0 341.2,41.5 343.5,40.8 343.9,41.2 344.1,42.0 344.5,42.2 344.8,42.1 345.4,41.2 345.7,41.0 346.8,40.7 347.5,40.9 348.5,41.7 349.2,42.0 353.0,42.4 353.6,42.2 354.0,41.5 354.5,41.2 355.5,41.6 356.2,41.6 358.2,41.4 359.2,40.9 359.8,40.8 361.0,41.3 362.7,41.5 363.8,41.9 364.0,41.9 365.4,41.0 366.8,40.5 367.1,40.7 366.6,42.0 366.6,42.2 367.0,42.5 368.8,42.7 369.5,42.7 370.1,42.2 370.5,41.2 371.0,41.0 371.5,41.0 373.5,41.8 375.2,42.2 375.6,42.7 375.8,43.7 376.2,44.1 376.7,44.0 377.2,43.1 379.0,42.0 379.8,41.6 380.5,41.6 381.0,41.7 382.0,42.5 382.8,42.9 384.0,43.0 385.0,43.3 386.8,43.0 387.8,43.0 389.0,43.4 390.8,44.4 391.5,44.7 393.5,45.1 394.8,44.9 395.3,45.2 395.7,45.7 395.9,46.5 396.8,47.4 397.5,48.5 397.7,49.5 397.4,50.0 395.8,51.3 393.8,52.5 393.2,52.6 393.0,52.5 391.8,51.5 390.5,50.8 389.5,50.7 388.5,50.7 387.8,50.9 387.1,51.5 386.2,53.2 385.8,53.8 385.2,54.1 384.5,54.2 383.5,54.0 382.5,53.3 382.0,53.3 381.0,53.5 380.2,53.4 379.8,53.0 379.3,51.7 378.8,51.2 378.5,51.2 378.0,51.5 377.5,52.9 376.0,51.5 375.5,51.3 374.8,51.3 374.2,51.5 373.8,52.0 372.1,55.2 371.5,56.9 371.2,57.2 370.8,57.5 370.2,57.5 370.0,57.4 369.0,55.5 368.8,54.5 368.9,54.0 369.8,53.1 370.1,52.5 370.5,51.2 370.4,50.7 370.0,50.2 369.5,50.0 368.2,50.6 367.1,51.0 366.7,51.2 366.6,51.5 366.9,52.5 366.9,53.2 365.8,54.6 365.1,55.7 364.9,56.5 364.9,58.0 364.7,58.7 364.1,59.5 363.2,60.3 362.5,60.7 361.8,60.9 361.2,60.9 361.0,60.7 360.9,60.5 361.3,59.0 361.2,58.5 360.8,58.0 360.0,57.8 359.2,57.9 358.9,58.2 358.6,59.2 358.2,59.4 357.8,59.2 357.5,58.9 357.2,58.5 357.2,57.7 358.0,55.9 358.4,55.5 360.5,54.0 361.0,54.0 362.0,54.2 362.8,54.0 363.8,52.7 363.9,52.2 363.8,52.0 362.0,51.2 361.0,51.2 360.5,51.6 359.8,52.8 359.0,53.0 357.8,52.8 357.0,53.0 355.9,53.7 355.3,55.0 354.8,55.2 354.0,55.3 353.8,55.2 353.4,54.7 353.3,54.0 354.9,52.5 355.1,51.7 355.0,51.0 354.5,49.7 354.0,49.2 353.2,49.1 352.6,49.5 352.4,50.0 352.2,50.7 352.1,52.2 352.2,52.7 352.9,54.0 352.5,55.2 352.5,56.2 353.4,58.5 353.6,60.7 353.9,61.5 354.8,62.4 357.5,63.9 358.0,64.0 358.5,63.8 359.8,62.6 360.2,62.5 360.5,62.5 361.0,63.1 361.8,64.5 362.8,65.5 362.9,65.7 362.9,66.2 362.3,67.7 361.8,69.7 361.5,70.2 361.2,70.4 360.2,70.6 358.2,70.0 356.8,70.1 356.0,69.8 354.8,70.7 352.8,71.6 352.0,72.2 351.5,72.7 351.5,73.2 352.0,73.7 352.8,74.2 354.0,74.7 354.9,76.5 355.0,77.2 354.8,78.0 354.2,78.7 353.2,79.5 353.5,79.8 354.5,80.1 355.0,80.6 355.5,82.7 356.2,84.0 356.2,84.5ZM376.5,41.5 376.0,41.5 375.8,41.2 375.8,41.0 376.1,40.7 376.5,40.7 376.8,41.0 376.8,41.3 376.5,41.5ZM342.1,52.7 342.2,52.7 342.4,52.2 342.2,51.4 341.5,50.7 340.7,50.7 340.7,51.0 342.1,52.7ZM367.8,61.0 367.5,60.7 367.5,60.4 368.0,58.8 368.5,58.2 369.0,58.0 369.2,58.0 369.3,58.5 369.2,59.0 367.8,61.0ZM347.0,61.2 346.2,61.0 345.9,60.7 345.9,60.5 346.2,59.8 346.8,59.2 347.8,58.8 347.9,59.0 347.6,60.5 347.2,61.1 347.0,61.2ZM377.0,82.2 376.5,82.3 375.5,82.1 374.6,81.7 374.4,81.5 374.8,80.2 374.8,79.5 374.4,79.0 373.0,78.0 372.5,77.2 372.6,76.7 373.2,75.7 373.2,75.5 371.8,74.0 371.0,72.4 370.8,72.2 369.8,72.7 369.3,72.5 369.5,72.0 370.1,71.5 370.2,71.2 369.9,70.7 368.2,69.6 367.1,68.2 365.8,67.7 365.6,67.5 366.1,65.2 365.7,63.5 366.0,62.9 367.5,61.4 368.0,62.4 368.3,63.7 368.3,64.5 367.9,65.5 368.1,66.5 368.4,66.7 369.5,67.1 370.1,67.5 370.6,68.0 371.1,69.0 371.5,69.3 372.8,69.1 374.2,68.6 374.4,68.7 374.6,69.5 374.3,71.0 374.5,71.5 376.2,72.5 377.3,74.2 377.5,75.0 377.3,75.7 377.0,76.3 375.9,77.0 375.7,78.2 375.7,78.7 375.9,79.0 377.2,79.8 377.7,80.5 377.7,81.5 377.3,82.0 377.0,82.2ZM374.5,66.3 373.6,65.7 372.2,65.0 371.9,64.7 371.7,64.2 371.8,63.7 372.2,63.2 373.2,62.4 373.8,62.1 374.2,62.2 374.5,62.3 374.9,63.2 374.9,64.5 374.8,65.7 374.5,66.3ZM352.7,70.0 354.8,68.5 355.0,68.5 355.8,69.5 356.0,69.7 357.5,68.5 357.9,67.7 357.4,66.5 356.8,65.7 354.7,65.0 353.4,63.7 352.5,63.4 352.2,63.5 352.2,64.0 352.9,65.5 353.0,66.5 352.3,67.0 350.2,67.8 349.9,68.2 349.8,68.7 350.1,69.5 350.8,70.0 351.8,70.2 352.7,70.0ZM361.1,68.0 361.5,67.5 361.5,67.2 361.2,67.0 360.5,67.4 360.1,68.0 360.5,68.2 361.1,68.0ZM349.8,77.2 350.7,76.5 350.9,75.7 350.4,73.7 349.8,72.8 349.5,72.2 349.1,69.0 348.8,68.5 348.2,68.1 347.2,67.9 346.2,68.1 345.6,68.5 345.2,69.0 344.8,70.5 344.5,70.9 343.8,71.4 342.5,71.7 342.1,72.2 342.0,73.0 342.4,73.5 343.5,74.4 345.4,75.2 347.6,77.0 348.8,77.4 349.8,77.2ZM364.8,71.3 364.0,69.2 364.1,68.7 364.5,68.4 365.0,68.6 365.5,70.2 365.2,70.9 364.8,71.3ZM368.0,78.0 367.0,78.0 366.2,77.7 365.0,76.3 363.5,75.1 363.1,74.5 362.9,73.7 362.8,72.5 363.0,71.9 363.5,71.6 364.5,71.5 365.1,72.5 366.8,74.0 368.1,76.0 368.4,76.7 368.5,77.7 368.0,78.0ZM362.8,84.3 362.5,84.2 362.1,83.7 362.1,83.0 362.4,82.2 363.8,80.0 364.5,80.1 365.5,80.7 365.7,81.2 364.0,83.4 363.2,84.1 362.8,84.3ZM368.2,89.2 367.5,89.2 367.3,89.0 367.3,88.5 368.8,87.6 370.1,85.5 370.4,84.7 371.2,81.0 371.5,80.8 372.0,80.6 373.0,81.0 373.6,81.5 373.7,81.7 373.4,82.7 373.3,83.7 373.0,84.2 372.3,84.7 372.1,85.2 372.3,85.7 373.2,86.8 373.4,87.2 373.2,87.7 372.5,88.5 371.5,89.0 370.8,89.0 369.8,88.7 369.2,88.7 368.2,89.2ZM342.5,85.5 342.0,85.7 341.5,85.5 341.0,85.1 340.3,84.0 340.2,83.5 340.2,82.8 340.8,81.3 341.0,81.1 341.9,82.0 343.3,82.7 343.5,83.0 343.1,84.7 342.5,85.5ZM347.0,94.2 346.5,94.4 346.1,94.2 345.9,93.7 346.0,92.5 345.8,91.7 344.2,89.3 343.8,89.0 343.5,89.1 343.0,90.5 342.8,90.8 342.2,90.9 341.5,90.6 341.2,90.2 341.0,89.5 341.1,88.7 341.2,88.3 341.8,87.9 342.2,87.8 343.2,87.9 343.8,87.7 344.2,87.2 344.5,86.2 345.0,85.7 346.8,85.1 349.0,83.7 349.5,83.6 350.1,84.0 350.4,84.7 350.1,85.2 349.0,86.2 347.6,88.2 347.6,88.7 348.3,90.0 348.5,90.7 348.4,91.2 347.5,92.7 347.0,94.2ZM354.0,86.3 353.2,86.0 353.0,85.7 353.0,85.3 353.5,85.1 354.0,85.2 354.2,86.0 354.2,86.2 354.0,86.3ZM358.5,92.7 357.0,92.8 355.5,92.6 354.7,92.2 354.3,91.5 354.4,91.0 354.7,90.5 356.1,89.0 356.3,88.5 356.3,87.5 357.1,86.5 357.5,85.5 358.0,85.2 359.0,85.4 359.4,86.0 359.3,88.2 359.1,89.0 359.2,89.3 359.5,89.3 361.2,87.3 362.0,87.0 362.8,87.2 363.4,87.7 363.8,88.2 364.0,89.0 363.7,89.7 361.8,91.8 361.0,92.1 359.8,92.2 358.5,92.7ZM342.2,95.3 341.5,95.4 341.2,95.2 341.1,94.7 341.1,94.2 341.4,93.7 342.2,93.3 342.5,93.5 342.8,94.2 342.8,94.7 342.2,95.3ZM353.5,62.6 351.7,62.5 351.5,62.0 351.8,60.7 351.5,60.0 350.5,58.7 349.2,58.4 348.9,58.2 348.8,58.0 349.0,57.5 349.9,56.5 350.3,55.5 350.4,53.2 350.2,52.7 348.8,52.2 348.2,51.2 347.8,50.8 347.2,50.6 346.5,50.7 345.8,51.2 345.3,51.7 345.1,52.2 345.1,53.5 344.8,54.0 344.2,54.5 343.5,54.6 343.2,54.5 343.0,54.0 342.9,53.2 343.0,52.2 342.5,51.0 341.8,50.2 340.5,49.9 340.0,49.5 339.9,48.7 340.0,48.0 340.9,45.5 341.8,44.2 342.2,42.5 342.5,42.2 343.0,42.1 344.0,42.7 344.8,42.7 345.2,42.5 346.0,41.2 346.8,41.0 347.3,41.2 348.5,42.2 349.2,42.4 351.8,42.6 354.0,43.2 355.0,42.2 357.2,42.0 357.9,42.2 359.0,43.1 359.5,43.4 360.0,43.3 361.8,42.5 362.8,43.5 363.8,43.8 364.2,43.6 365.0,43.0 365.5,42.8 369.0,42.9 369.8,42.8 370.3,42.5 371.0,41.5 371.2,41.4 374.7,42.7 375.0,43.1 375.5,44.2 376.0,44.5 376.5,44.7 377.0,44.5 377.7,43.5 379.3,42.2 379.8,41.9 380.5,41.9 381.0,42.0 382.8,43.4 385.0,43.6 386.8,43.2 388.2,43.4 389.2,43.7 391.2,44.8 393.8,45.7 394.5,45.8 396.5,47.5 397.3,48.7 397.3,49.5 396.6,50.2 395.5,51.1 393.8,51.9 393.2,51.9 391.8,51.0 390.2,50.5 389.0,50.4 387.8,50.6 387.2,50.9 386.8,51.4 385.8,53.4 385.2,53.8 384.8,54.0 383.8,53.8 382.5,52.8 382.0,52.8 381.0,53.1 380.5,53.0 379.5,51.4 378.8,50.8 378.2,50.8 377.0,51.3 375.5,50.8 374.0,51.0 373.5,51.3 372.4,54.0 371.0,56.3 370.8,56.4 369.7,55.7 369.4,55.2 369.3,54.5 370.2,53.0 371.3,51.0 369.8,49.3 369.2,49.3 368.0,50.2 366.0,50.7 364.8,51.3 363.5,51.2 361.8,50.7 361.0,50.7 360.2,51.2 359.5,52.2 359.2,52.4 357.8,52.3 356.2,52.8 355.9,52.7 355.7,52.5 355.3,50.7 354.5,49.2 353.8,48.8 352.8,48.9 351.8,49.2 351.5,49.5 351.7,50.2 351.6,52.2 352.1,54.0 352.0,55.5 352.1,56.7 352.4,57.2 353.0,58.0 353.2,58.7 353.2,59.5 352.9,60.7 353.5,62.2 353.6,62.5 353.5,62.6ZM340.8,53.3 340.5,53.3 340.2,53.2 340.1,52.7 340.2,52.0 340.5,51.8 340.8,52.0 341.1,52.5 341.1,53.0 340.8,53.3ZM362.5,60.5 361.8,60.5 361.5,60.3 361.6,58.7 361.3,58.2 360.8,57.7 359.8,57.4 358.8,57.4 358.5,57.6 358.0,58.6 357.8,58.5 357.6,58.2 357.6,57.7 358.7,56.0 359.3,55.5 360.5,54.7 362.0,54.8 362.8,54.6 364.2,53.2 365.0,52.0 365.2,51.8 365.8,51.8 366.2,52.3 366.4,53.0 365.5,54.2 364.8,55.7 364.7,56.5 364.7,57.7 364.5,58.5 363.5,59.9 362.5,60.5ZM341.2,64.5 340.5,64.3 340.1,63.7 340.2,62.7 340.5,62.3 340.8,62.2 341.2,62.4 341.8,63.5 341.7,64.2 341.2,64.5ZM367.0,67.1 366.5,67.1 366.3,66.7 366.7,65.2 366.1,64.0 366.1,63.5 366.5,62.8 367.2,62.5 367.8,62.8 368.0,63.7 367.9,64.2 367.2,65.5 367.3,66.7 367.0,67.1ZM374.0,65.0 373.5,65.1 372.8,64.9 372.2,64.5 372.1,64.2 372.2,63.7 372.4,63.5 373.5,62.7 374.0,62.8 374.2,62.9 374.5,63.5 374.4,64.5 374.0,65.0ZM359.2,67.7 358.8,67.9 357.0,65.4 355.5,64.9 354.8,64.5 354.4,63.7 354.4,63.2 354.8,63.1 355.5,63.2 357.2,64.1 357.8,64.2 358.8,64.0 360.0,63.0 360.2,62.9 360.6,63.2 362.1,65.7 361.8,66.0 361.0,66.2 359.2,67.7ZM351.2,66.7 350.5,66.9 350.0,66.7 349.6,66.0 349.7,65.2 350.0,64.7 350.5,64.1 351.0,63.9 351.2,64.0 351.8,64.7 352.2,65.7 352.0,66.3 351.2,66.7ZM341.5,71.4 341.2,71.4 341.0,71.0 340.8,70.2 340.9,69.5 341.2,69.0 341.8,69.0 342.8,70.0 343.5,69.7 344.0,69.2 343.5,67.2 343.5,66.2 344.2,66.1 346.2,66.4 347.3,66.7 348.1,67.2 348.0,67.5 346.2,67.8 345.2,68.5 344.5,69.2 344.3,70.2 344.0,70.7 343.5,70.8 342.8,70.5 342.5,70.5 341.5,71.4ZM370.2,69.8 369.2,69.5 368.5,69.0 368.1,68.2 368.2,67.7 368.5,67.5 369.0,67.4 369.5,67.5 370.0,67.9 370.3,68.2 370.5,69.0 370.5,69.6 370.2,69.8ZM360.5,70.2 359.8,70.2 358.3,69.5 358.1,69.2 358.2,68.8 358.8,68.3 359.8,68.8 361.1,69.0 361.3,69.2 361.3,69.7 361.0,70.0 360.5,70.2ZM375.0,78.7 374.5,78.6 373.8,78.3 373.0,77.5 373.0,77.1 373.2,76.7 373.5,76.4 374.4,76.0 374.5,75.7 372.5,74.2 372.0,73.5 371.7,72.2 371.1,70.7 371.0,70.2 371.2,70.0 371.8,69.7 373.2,69.3 373.8,69.3 374.0,69.5 374.1,70.0 373.8,71.2 374.0,71.7 376.0,72.8 376.5,73.4 377.1,74.5 377.2,75.2 377.0,75.7 376.5,76.0 375.3,76.2 375.3,78.0 375.2,78.5 375.0,78.7ZM350.8,72.3 350.2,72.4 349.8,72.0 349.6,71.0 349.8,70.1 350.0,70.1 351.9,70.7 352.2,71.0 351.9,71.5 350.8,72.3ZM367.2,77.5 366.8,77.5 366.2,77.2 365.3,76.0 363.8,74.9 363.3,74.0 363.5,72.7 363.8,72.6 364.0,72.7 365.4,73.5 366.0,74.0 366.6,75.2 367.5,75.9 367.8,76.5 367.8,77.2 367.2,77.5ZM346.0,80.8 345.5,80.9 344.7,80.0 344.5,79.5 344.4,78.0 344.0,77.2 343.5,77.1 342.2,77.6 341.8,77.6 341.2,77.4 341.0,77.2 340.8,76.5 340.9,75.0 341.2,74.2 341.5,73.8 342.2,73.9 344.0,75.1 345.2,75.6 347.0,77.2 348.5,77.8 349.0,77.8 349.5,77.7 350.7,77.0 351.3,76.2 351.8,75.0 353.8,75.4 354.2,75.8 354.7,76.5 354.8,77.0 354.8,77.5 354.5,78.0 354.0,78.5 351.3,79.2 350.3,79.7 349.2,80.5 347.2,80.3 346.0,80.8ZM376.8,81.8 375.6,81.7 375.1,81.5 375.0,81.2 375.1,80.2 375.2,79.6 375.5,79.3 376.6,79.7 377.3,80.5 377.3,81.2 377.0,81.7 376.8,81.8ZM354.8,82.8 352.1,81.5 351.9,81.2 351.9,80.7 352.5,80.4 354.5,80.8 354.8,81.1 354.9,81.7 354.9,82.5 354.8,82.8ZM363.0,83.8 362.5,83.7 362.4,83.5 362.4,82.7 362.8,82.0 363.8,80.8 364.2,80.6 364.8,80.7 365.1,81.2 364.9,81.7 364.0,83.0 363.0,83.8ZM371.5,88.7 371.0,88.7 370.3,88.5 369.6,88.0 369.5,87.5 369.8,86.7 370.9,84.7 371.7,81.5 372.0,81.2 372.2,81.2 372.6,81.5 372.8,81.7 372.8,83.5 372.5,83.9 371.6,84.7 371.5,85.2 371.8,85.7 372.9,86.7 373.1,87.5 372.5,88.2 371.5,88.7ZM342.0,85.2 341.2,84.9 340.6,84.0 340.5,83.1 340.8,82.6 341.0,82.4 341.5,82.4 342.0,82.6 342.5,83.0 342.9,83.5 342.9,84.0 342.8,84.7 342.5,85.0 342.0,85.2ZM347.0,91.5 346.8,91.6 346.2,91.3 345.8,90.7 345.2,89.7 345.0,88.7 345.2,87.7 345.1,86.5 345.5,86.0 346.8,85.7 349.0,84.3 349.5,84.2 349.7,84.5 349.6,85.0 348.0,86.8 346.8,87.7 346.5,88.2 346.7,89.0 347.6,90.0 347.8,90.5 347.6,91.0 347.0,91.5ZM358.0,92.5 356.8,92.6 355.5,92.3 354.8,91.8 354.6,91.2 354.8,90.7 355.2,90.1 357.0,89.0 356.8,88.0 356.9,87.5 358.0,85.7 358.2,85.7 358.8,85.7 359.0,86.0 359.1,86.7 359.0,87.7 358.8,88.2 357.8,89.2 358.2,89.7 359.5,90.8 359.8,90.9 360.0,90.5 360.6,88.7 361.5,87.6 362.2,87.3 362.8,87.5 363.3,88.0 363.5,88.5 363.4,89.2 361.5,91.3 360.8,91.5 359.8,91.1 358.5,92.2 358.0,92.5ZM342.5,90.2 342.0,90.4 341.4,90.0 341.4,89.2 341.5,88.8 341.8,88.6 342.2,88.6 342.6,89.0 342.7,89.7 342.5,90.2ZM342.0,95.0 341.8,95.0 341.5,94.8 341.4,94.5 341.7,94.0 342.0,93.8 342.3,94.0 342.4,94.5 342.0,95.0ZM344.2,54.1 343.8,54.2 343.5,54.0 343.4,53.5 343.5,52.2 342.5,50.5 341.8,49.8 340.5,49.5 340.2,49.0 340.2,48.2 341.2,45.5 342.8,43.1 343.2,43.0 344.5,43.1 345.2,43.0 345.5,42.7 346.0,41.7 346.5,41.4 347.0,41.5 348.0,42.2 348.8,42.6 352.0,42.8 354.2,43.9 354.8,43.7 355.1,43.0 355.5,42.5 356.8,42.3 357.5,42.5 359.0,43.7 359.5,44.0 360.0,44.0 361.5,43.5 364.0,44.2 365.8,43.4 368.0,43.1 369.8,43.1 370.2,42.9 371.0,42.1 371.5,41.9 372.0,42.1 374.2,43.1 375.3,44.5 376.5,45.0 377.0,44.9 377.2,44.7 377.9,43.7 379.5,42.4 380.0,42.2 380.5,42.2 381.2,42.6 382.0,43.5 382.1,44.0 382.0,45.0 382.2,45.2 383.2,44.4 383.8,44.1 385.2,43.9 386.8,43.5 388.5,43.7 389.2,43.9 391.0,45.0 392.4,45.5 393.5,46.2 394.5,46.5 395.2,46.9 396.5,47.8 396.9,48.5 397.1,49.0 396.8,49.7 395.8,50.6 395.0,51.1 394.0,51.3 393.2,51.3 391.0,50.4 390.0,50.1 388.2,50.1 387.2,50.3 386.5,51.0 386.0,52.5 385.6,53.2 385.2,53.5 384.5,53.7 383.7,53.5 382.5,52.3 382.0,52.3 381.2,52.7 380.8,52.6 380.3,52.2 379.2,50.6 378.8,50.3 378.2,50.3 377.0,50.7 375.5,50.3 374.2,50.4 371.8,50.3 371.0,50.0 370.0,48.8 369.5,48.6 369.0,48.8 368.2,49.7 367.5,50.0 366.0,50.2 364.2,50.6 361.0,50.2 359.2,51.1 358.5,51.0 358.2,51.1 357.3,52.0 356.5,52.2 356.1,52.0 355.7,50.7 355.2,49.7 354.3,48.7 353.5,48.5 352.2,48.6 350.8,48.5 350.3,48.7 350.1,49.2 351.1,50.5 351.2,51.2 350.9,52.0 350.5,52.1 349.2,51.7 348.3,50.7 347.8,50.4 347.2,50.3 346.5,50.4 345.8,50.8 345.0,51.7 344.7,52.5 344.7,53.5 344.2,54.1ZM370.8,55.3 370.2,55.3 370.0,55.2 369.8,54.7 369.9,54.2 371.2,52.0 371.8,51.8 372.5,51.8 372.7,52.5 372.2,53.6 371.5,54.7 370.8,55.3ZM362.5,60.2 362.1,60.2 361.9,60.0 361.9,58.7 361.7,58.2 360.8,57.3 359.6,56.7 359.5,56.2 360.2,55.4 360.8,55.3 362.0,55.2 362.8,55.0 363.3,54.7 364.2,54.0 364.8,53.8 364.9,54.5 364.4,56.2 364.2,58.4 363.3,59.7 362.5,60.2ZM351.0,57.0 350.6,57.0 350.6,56.7 350.8,55.9 351.2,55.0 351.2,54.1 351.5,56.2 351.4,56.7 351.0,57.0ZM352.5,59.5 352.0,59.5 351.6,59.0 351.6,58.5 352.0,58.0 352.5,58.2 352.8,58.6 352.8,59.1 352.5,59.5ZM341.0,64.0 340.7,64.0 340.4,63.5 340.5,63.0 340.8,62.8 341.0,63.0 341.3,63.5 341.2,63.8 341.0,64.0ZM367.2,64.1 367.0,64.1 366.6,63.7 366.8,63.3 367.0,63.1 367.2,63.1 367.5,63.5 367.5,63.7 367.2,64.1ZM373.5,64.3 373.0,64.3 372.8,64.1 372.8,63.7 373.2,63.4 373.5,63.5 373.8,63.7 373.8,64.0 373.5,64.3ZM359.5,67.0 359.0,67.2 358.5,67.0 357.2,64.9 357.0,64.8 356.1,64.7 355.6,64.5 355.2,64.0 355.4,63.7 356.0,63.7 357.2,64.7 359.0,64.3 360.0,63.6 360.3,63.7 360.6,64.2 360.8,65.2 360.1,66.5 359.5,67.0ZM345.0,68.1 344.5,68.1 344.1,67.7 344.0,67.0 344.2,66.6 345.5,66.5 346.8,67.0 346.9,67.2 345.0,68.1ZM376.2,75.5 375.2,75.3 373.8,74.6 373.0,74.2 372.5,73.7 372.4,73.2 372.3,72.0 371.8,70.7 371.9,70.2 372.2,70.0 373.0,69.7 373.5,70.0 373.5,70.5 373.2,71.5 373.4,72.0 375.5,72.9 376.2,73.6 376.7,74.5 376.8,75.0 376.8,75.2 376.2,75.5ZM350.5,71.5 350.2,71.5 350.1,71.2 350.2,71.0 350.7,71.2 350.5,71.5ZM365.2,75.0 364.8,75.1 364.2,74.8 364.0,74.5 364.0,74.0 364.5,73.8 365.0,74.0 365.4,74.5 365.2,75.0ZM348.2,79.7 347.0,79.6 346.0,79.9 345.2,79.6 345.0,79.2 344.7,77.5 344.2,76.6 344.0,76.4 343.5,76.5 342.2,77.1 341.5,77.1 341.2,76.7 341.1,76.2 341.2,75.0 341.5,74.5 342.0,74.3 342.5,74.4 344.0,75.8 345.2,76.2 347.0,77.9 348.9,78.7 349.0,79.0 348.8,79.5 348.2,79.7ZM351.0,78.7 350.0,78.9 349.6,78.7 349.6,78.5 352.0,76.1 352.5,75.9 353.2,75.8 354.0,76.1 354.4,76.5 354.6,77.0 354.5,77.5 354.0,78.1 351.0,78.7ZM366.8,76.7 366.8,76.4 366.8,76.7ZM374.5,78.2 374.0,78.0 373.6,77.7 373.5,77.2 373.8,76.9 374.2,76.7 374.8,77.0 374.9,77.7 374.8,78.1 374.5,78.2ZM376.8,81.2 376.2,81.4 375.5,81.2 375.3,80.7 375.6,80.0 376.0,79.8 376.7,80.2 376.9,80.7 376.8,81.2ZM363.2,83.2 362.8,83.2 362.7,83.0 362.9,82.5 363.2,81.9 364.0,81.6 364.2,82.0 364.0,82.5 363.2,83.2ZM342.0,84.7 341.5,84.7 341.0,84.1 340.8,83.5 341.0,83.1 341.5,83.0 342.3,83.5 342.5,84.2 342.2,84.6 342.0,84.7ZM371.5,88.5 371.0,88.4 370.6,88.2 370.0,87.5 370.1,87.0 370.3,86.5 370.8,86.0 371.0,85.9 371.5,86.0 372.2,86.5 372.8,87.2 372.5,88.0 372.0,88.3 371.5,88.5ZM358.2,88.0 357.8,88.2 357.5,88.0 357.4,87.7 357.6,87.0 358.2,86.3 358.6,86.5 358.7,87.0 358.5,87.7 358.2,88.0ZM361.8,90.2 361.2,90.4 361.0,90.2 360.8,89.7 360.9,89.0 361.2,88.3 361.8,87.8 362.5,87.7 363.1,88.2 363.1,89.0 362.5,89.7 361.8,90.2ZM357.5,92.3 356.2,92.3 355.3,92.0 354.9,91.5 355.0,90.7 355.5,90.2 356.2,89.8 357.0,89.8 357.8,90.2 358.3,90.7 358.5,91.2 358.1,92.0 357.5,92.3ZM384.5,53.5 383.8,53.1 383.0,52.2 382.5,51.8 381.2,52.3 380.8,52.2 379.0,49.7 378.2,49.1 378.0,49.2 377.5,50.0 377.0,50.1 375.2,49.7 371.8,49.9 371.0,49.6 370.2,48.5 369.8,48.1 369.0,48.3 368.0,49.3 367.2,49.7 364.5,50.1 363.2,49.8 362.0,49.9 360.8,49.7 359.8,50.2 358.5,50.2 358.0,50.3 356.8,51.2 354.9,49.0 354.2,48.4 353.5,48.3 352.2,48.3 350.5,48.2 349.8,48.6 349.5,49.2 349.7,49.7 350.3,50.2 350.6,50.7 350.5,51.2 350.2,51.4 349.5,51.3 348.2,50.1 347.2,50.0 346.5,50.2 345.9,50.5 344.2,51.8 344.0,51.8 343.5,51.3 342.2,49.7 340.8,49.2 340.5,49.0 340.4,48.2 341.3,45.7 342.8,43.8 343.5,43.4 345.0,43.4 345.8,43.3 346.0,43.0 346.3,42.2 346.5,41.9 346.8,41.9 348.0,42.7 348.8,43.0 349.5,43.1 351.0,42.9 351.8,43.0 352.5,43.3 353.5,44.0 354.2,44.3 355.0,44.2 355.8,42.9 356.2,42.7 356.8,42.6 357.5,42.9 359.0,44.2 359.5,44.4 360.0,44.5 361.8,44.0 364.2,44.7 366.0,43.7 368.0,43.4 370.0,43.3 371.2,42.5 371.8,42.4 372.5,42.7 374.0,43.6 375.6,45.0 376.8,45.3 377.3,45.2 378.1,44.0 379.5,42.8 380.0,42.6 380.5,42.6 381.0,42.8 381.5,43.5 381.5,44.0 381.3,45.5 381.6,46.0 382.0,46.2 382.5,46.1 383.2,45.1 384.0,44.5 386.8,43.8 388.0,43.8 389.0,44.1 392.2,45.7 393.2,46.7 394.5,46.8 395.2,47.2 396.2,47.8 396.7,48.5 396.7,49.2 396.2,49.9 395.2,50.6 394.2,50.9 393.2,50.9 390.0,49.8 387.8,49.7 386.2,50.0 385.8,50.2 385.7,50.5 385.9,51.7 385.7,52.7 385.2,53.2 384.5,53.5ZM371.8,46.0 372.0,45.5 372.0,45.2 371.8,45.0 371.5,45.1 371.3,45.5 371.5,45.9 371.8,46.0ZM371.0,54.3 370.7,54.2 371.0,53.5 371.5,52.7 371.8,52.6 372.0,53.0 371.8,53.5 371.5,53.9 371.0,54.3ZM362.8,59.7 362.4,59.7 362.3,58.5 360.8,56.7 360.8,56.2 361.0,56.0 362.0,55.5 363.5,55.1 364.0,55.1 364.2,55.7 364.0,57.7 363.3,59.2 362.8,59.7ZM359.0,66.7 358.5,66.5 358.0,65.5 358.2,65.0 359.0,64.8 359.5,64.9 359.8,65.1 359.9,65.7 359.6,66.5 359.0,66.7ZM345.2,67.2 344.9,67.2 345.2,67.2ZM376.0,74.7 375.0,74.7 373.6,74.2 373.0,73.6 372.9,73.2 373.0,72.9 373.2,72.7 374.0,72.7 375.2,73.2 376.0,74.0 376.1,74.5 376.0,74.7ZM342.2,76.7 341.7,76.7 341.4,76.2 341.5,75.1 342.0,74.7 342.8,75.0 343.2,75.7 343.0,76.2 342.2,76.7ZM353.2,78.0 351.5,78.0 351.2,78.0 351.2,77.7 352.2,76.5 352.8,76.3 353.5,76.3 354.1,76.7 354.3,77.2 354.0,77.7 353.2,78.0ZM346.2,78.8 346.0,78.9 345.6,78.7 345.6,78.2 345.8,77.9 346.0,78.0 346.4,78.5 346.2,78.8ZM372.0,88.0 371.5,88.2 370.9,88.0 370.6,87.5 370.7,87.0 370.8,86.7 371.5,86.5 372.3,87.0 372.5,87.5 372.0,88.0ZM362.0,89.5 361.5,89.5 361.4,89.0 361.8,88.3 362.2,88.1 362.6,88.2 362.7,88.7 362.5,89.1 362.0,89.5ZM357.2,92.0 356.2,92.0 355.5,91.7 355.2,91.2 355.4,90.7 355.8,90.4 356.2,90.2 356.8,90.2 357.3,90.5 357.8,90.9 357.9,91.2 357.7,91.7 357.2,92.0ZM385.0,53.0 384.5,53.1 384.0,52.9 382.8,51.1 382.2,51.2 381.2,51.8 380.8,51.7 380.2,51.1 379.2,49.1 378.5,48.5 377.8,48.3 375.5,48.5 373.8,47.9 373.4,48.0 373.4,49.0 373.2,49.2 372.2,49.5 371.8,49.6 371.2,49.4 370.9,49.0 370.3,48.0 369.8,47.7 368.8,48.0 367.5,49.1 367.0,49.3 364.8,49.5 363.2,49.3 362.0,49.4 361.3,49.2 360.2,48.6 358.9,47.2 358.4,47.0 358.0,46.9 357.8,47.2 357.9,47.5 359.0,48.7 359.2,49.2 358.9,49.5 357.8,49.9 357.0,50.1 356.5,50.0 356.0,49.7 354.8,48.5 354.2,48.1 350.2,48.0 349.5,48.2 348.8,49.4 348.5,49.6 346.2,50.0 344.2,51.3 343.6,51.0 342.5,49.4 340.8,48.7 340.7,48.2 341.7,45.5 343.0,44.0 343.6,43.7 346.0,43.9 346.5,43.8 347.2,43.2 347.5,43.2 349.2,43.6 350.5,43.2 351.2,43.1 352.2,43.4 353.8,44.4 354.8,44.6 355.4,44.5 356.0,43.3 356.2,43.1 356.8,43.0 357.5,43.4 358.8,44.4 359.5,44.8 360.2,44.8 361.5,44.4 362.0,44.4 364.2,45.1 364.8,45.0 366.2,44.1 368.2,43.6 370.2,43.5 371.2,43.0 371.8,42.9 372.5,43.2 373.2,44.0 374.2,44.3 376.2,45.5 377.0,45.7 377.8,45.3 378.4,44.2 378.9,43.7 380.0,43.0 380.5,43.0 380.8,43.2 381.0,43.7 380.9,45.5 381.0,46.0 381.5,46.5 382.5,46.8 382.9,46.7 383.4,45.5 384.2,44.8 386.8,44.0 388.5,44.2 389.2,44.5 392.0,45.9 392.8,47.4 394.2,47.1 394.8,47.2 395.8,47.7 396.4,48.5 396.5,49.2 396.0,49.8 395.2,50.4 394.2,50.6 393.2,50.5 390.0,49.4 388.2,49.1 385.8,49.5 385.2,49.8 385.0,50.2 385.0,50.7 385.4,51.5 385.5,52.0 385.3,52.7 385.0,53.0ZM372.0,46.7 372.4,46.2 372.5,44.7 372.2,44.4 371.5,44.4 371.2,44.5 370.9,45.0 370.9,46.0 371.2,46.5 371.8,46.7 372.0,46.7ZM363.0,58.0 362.5,57.9 362.0,57.6 361.6,57.2 361.4,56.7 361.6,56.2 361.9,56.0 362.5,55.7 363.2,55.5 363.8,55.8 363.9,56.7 363.5,57.6 363.0,58.0ZM359.0,66.1 358.7,66.0 358.8,65.5 359.0,65.5 359.2,65.7 359.2,66.0 359.0,66.1ZM375.0,74.1 374.1,74.0 373.8,73.7 373.7,73.5 374.0,73.2 374.5,73.3 375.0,73.7 375.1,74.0 375.0,74.1ZM342.2,76.1 342.0,76.1 341.8,76.0 341.8,75.7 342.0,75.3 342.2,75.2 342.5,75.5 342.5,75.9 342.2,76.1ZM353.5,77.5 352.8,77.5 352.5,77.5 352.4,77.2 352.8,76.9 353.5,76.9 353.7,77.2 353.5,77.5ZM371.8,87.6 371.5,87.7 371.3,87.5 371.4,87.2 371.8,87.2 371.9,87.5 371.8,87.6ZM357.0,91.5 356.5,91.6 356.0,91.5 355.8,91.2 355.8,91.0 356.2,90.7 356.8,90.8 357.1,91.2 357.0,91.5ZM344.5,50.7 344.0,50.7 343.0,49.3 342.5,49.0 341.2,48.5 341.1,48.2 341.6,46.2 342.0,45.5 343.2,44.2 344.0,43.9 344.8,44.0 346.2,44.5 347.5,44.0 348.0,43.9 348.5,44.1 349.2,44.8 349.5,44.8 350.2,43.7 350.7,43.5 351.2,43.4 352.0,43.5 353.8,44.6 355.2,44.9 355.8,44.7 356.4,43.7 356.8,43.6 357.5,43.9 358.7,45.0 359.5,45.3 360.2,45.3 361.8,44.8 362.2,44.8 364.5,45.5 365.0,45.4 366.2,44.7 368.0,44.0 369.0,43.8 370.0,43.9 370.6,44.2 370.5,45.7 370.8,47.0 372.2,47.7 372.7,48.5 372.5,49.0 372.2,49.1 371.5,49.1 371.0,48.5 370.7,47.5 370.5,47.3 370.2,47.3 368.2,47.8 366.8,48.7 362.0,49.0 361.4,48.7 358.5,46.4 358.0,46.1 357.5,46.0 357.2,46.5 357.2,47.2 358.1,48.5 358.3,49.0 358.2,49.2 357.8,49.5 357.0,49.6 356.5,49.5 355.0,48.2 354.5,47.9 352.2,47.9 349.8,47.6 349.0,47.9 348.0,49.1 346.0,49.8 344.5,50.7ZM381.2,51.3 381.0,51.3 380.6,51.0 379.8,49.2 379.2,48.5 378.8,48.1 377.2,47.8 375.0,47.7 373.1,47.0 372.9,46.7 372.8,46.2 372.9,45.5 373.1,45.0 373.5,44.6 374.0,44.6 374.8,44.9 376.5,46.0 377.2,46.1 378.2,45.5 379.0,44.1 379.8,43.7 380.2,43.6 380.5,44.0 380.4,45.5 380.7,46.2 382.2,47.2 383.5,47.7 384.2,47.8 384.5,47.7 384.5,47.5 383.8,46.7 383.6,46.2 383.7,45.7 384.0,45.4 384.7,45.0 386.5,44.4 388.0,44.4 389.5,44.9 391.5,46.0 391.9,46.5 391.8,47.7 392.2,48.2 392.8,48.1 393.8,47.6 394.5,47.4 395.7,48.0 396.2,48.7 396.2,49.2 395.8,49.7 395.0,50.2 394.2,50.3 393.5,50.2 391.5,49.5 390.0,48.7 388.0,48.4 385.5,48.9 384.0,50.1 383.0,50.0 382.5,50.1 381.2,51.3ZM384.8,52.6 384.2,52.6 383.8,52.0 383.7,51.2 384.0,50.8 384.5,51.1 385.0,51.7 385.1,52.2 384.8,52.6ZM363.2,57.2 362.8,57.4 362.2,57.3 362.0,57.0 362.0,56.5 362.5,56.0 363.2,56.0 363.5,56.5 363.2,57.2ZM357.2,49.1 356.5,48.9 355.0,47.7 351.8,47.6 350.5,47.3 349.9,47.0 349.5,46.5 350.2,45.5 350.6,44.0 351.0,43.7 351.8,43.7 353.5,44.7 356.2,45.5 356.5,46.0 356.8,47.5 357.6,48.7 357.5,49.0 357.2,49.1ZM363.0,48.5 362.2,48.6 361.5,48.3 359.6,46.5 359.4,46.2 359.5,46.0 360.5,45.8 362.2,45.2 363.0,45.3 364.5,46.0 366.2,45.9 366.5,45.8 367.6,44.7 368.4,44.2 369.2,44.1 370.0,44.5 370.2,45.0 370.2,46.2 370.0,46.7 369.8,47.0 369.0,47.2 368.0,47.4 367.5,47.3 366.8,46.7 366.5,46.8 366.2,47.2 365.8,47.5 364.0,48.2 363.0,48.5ZM345.0,50.0 344.5,50.1 344.2,50.1 343.2,48.9 341.8,48.2 341.6,48.0 341.7,47.0 342.2,45.7 343.2,44.5 344.0,44.2 344.8,44.3 346.0,45.0 347.5,44.6 348.0,44.7 348.6,45.2 349.4,46.5 348.5,47.5 347.5,48.9 345.0,50.0ZM390.8,47.7 390.2,47.9 389.5,47.9 389.0,47.7 388.2,47.0 388.0,46.9 387.0,47.6 386.5,47.6 384.5,46.6 384.2,46.2 384.2,46.0 384.5,45.5 385.6,45.0 386.8,44.6 387.9,44.7 390.2,45.5 391.3,46.2 391.4,46.5 391.3,47.0 390.8,47.7ZM381.2,50.0 381.0,49.9 380.1,48.7 379.2,47.9 377.4,47.2 377.2,47.0 377.3,46.7 378.7,45.7 379.5,44.9 379.7,45.7 380.1,46.2 382.4,47.7 383.1,48.5 383.1,49.0 381.2,50.0ZM375.8,47.3 374.8,47.3 373.5,46.7 373.2,46.5 373.1,46.0 373.4,45.2 373.8,45.0 374.2,45.0 375.0,45.3 375.9,46.0 376.5,46.7 376.4,47.0 375.8,47.3ZM346.0,46.7 346.0,46.5 345.8,46.3 345.5,46.4 345.3,46.7 345.5,46.9 346.0,46.7ZM394.5,50.0 393.4,49.7 392.9,49.2 392.9,49.0 393.8,48.0 394.5,47.7 395.2,47.9 395.7,48.2 395.9,48.5 396.0,49.0 395.5,49.6 394.5,50.0ZM362.8,56.8 362.6,56.7 362.8,56.6 362.8,56.8ZM353.8,47.5 351.9,47.5 351.0,47.2 350.6,47.0 350.4,46.7 350.4,46.2 351.1,44.2 351.5,44.0 352.0,44.1 353.0,44.7 355.2,45.5 355.8,46.0 355.9,46.5 355.8,47.1 353.8,47.5ZM345.8,49.3 345.0,49.4 344.5,49.3 343.7,48.2 342.7,48.0 342.2,47.6 342.2,46.7 342.5,46.0 343.0,45.2 343.8,44.6 344.5,44.6 345.0,45.0 345.1,45.2 345.1,45.7 344.0,47.2 344.0,47.5 344.2,47.7 345.0,47.7 347.0,47.3 347.3,47.5 347.4,48.2 347.1,48.7 345.8,49.3ZM369.2,46.8 368.8,46.9 368.2,46.8 368.0,46.7 367.8,46.2 367.9,45.5 368.1,45.0 368.5,44.6 369.0,44.5 369.6,44.7 369.8,45.5 369.8,46.3 369.2,46.8ZM386.5,46.7 385.8,46.6 385.1,46.2 384.9,46.0 385.0,45.7 385.9,45.2 386.8,45.0 387.2,45.0 387.9,45.2 388.1,45.5 387.9,46.0 387.2,46.5 386.5,46.7ZM348.0,46.5 347.8,46.6 347.5,46.6 347.2,46.0 347.2,45.6 347.7,45.5 348.0,45.7 348.2,46.2 348.0,46.5ZM375.5,46.7 374.8,46.9 374.0,46.6 373.5,46.2 373.5,45.7 374.0,45.3 374.8,45.5 375.5,46.2 375.6,46.5 375.5,46.7ZM363.2,48.0 362.2,48.1 361.8,47.9 361.1,47.2 360.9,46.7 361.0,46.5 361.6,46.0 362.2,45.7 362.8,45.7 363.3,46.0 364.0,46.5 364.3,47.0 364.1,47.5 363.2,48.0ZM390.2,47.3 389.8,47.3 389.2,46.9 388.9,46.2 388.9,46.0 389.1,45.7 390.0,45.7 390.8,46.2 390.9,46.7 390.2,47.3ZM381.5,49.0 381.0,48.8 380.3,48.2 379.6,47.2 379.8,47.0 380.8,47.2 382.0,48.0 382.2,48.5 382.1,48.7 381.5,49.0ZM395.0,49.5 394.2,49.6 393.7,49.2 393.6,48.7 394.0,48.2 394.8,48.0 395.5,48.5 395.6,49.0 395.5,49.2 395.0,49.5Z" fill="none" stroke="#000" stroke-width="0.6" stroke-linejoin="round"/><path d="M381,55.5 C388,55.5 396,55 401,52.5 C404,50 403,46 398,44 C393,42 385,41 378,40.5" fill="none" stroke="#000" stroke-width="0.7"/><path d="M383,55.5 C380,57 378.5,59 378.5,62 C378.5,66 381,70 382.5,75 C383.5,80 383,85 380,89 C376,93 370,96 362,97.5 C354,98.5 346,98 341,97" fill="none" stroke="#000" stroke-width="0.7"/><path d="M341,99 C348,99.5 356,99.5 363,99 C367,98.5 371,97.5 373,97 C371,99 366,101 360,101.5" fill="none" stroke="#000" stroke-width="0.6"/><path d="M341,101 C345,100 350,100.5 353,101.5" fill="none" stroke="#000" stroke-width="0.6"/></g><rect x="337.8" y="35" width="3.4" height="69" fill="#000"/>
<defs><clipPath id="cb0"><path d="M455,60 C457,55.5 465,54.5 469.5,57.5 C473,60.5 472.5,67 470,71.5 C467,75.5 462,77 458,78.5 C455.5,74 454,66 455,60 Z"/></clipPath></defs><path d="M455,60 C457,55.5 465,54.5 469.5,57.5 C473,60.5 472.5,67 470,71.5 C467,75.5 462,77 458,78.5 C455.5,74 454,66 455,60 Z" fill="#111"/><path d="M463,62.5 C465,64.5 465,68.5 462,71.5" fill="none" stroke="#fff" stroke-width="1.1"/><path d="M437,105.5 A12,2.7 0 0 1 461,105.5 Z" fill="#111"/><g clip-path="url(#cb0)"><path d="M473.8,58.9 472.8,58.8 471.5,58.3 471.0,58.7 470.8,59.2 470.9,59.8 471.5,60.2 473.8,60.7M472.4,74.0 472.5,73.8 472.4,73.5 472.2,73.3 472.0,73.3 471.9,73.8 472.0,74.0 472.4,74.0ZM454.2,59.0 454.0,59.1 453.9,58.5 454.0,56.4 454.8,57.8 455.0,58.2 454.7,58.8 454.2,59.0ZM468.2,60.6 467.5,60.6 467.2,60.2 467.1,59.5 467.5,59.0 468.2,59.0 468.8,59.5 468.8,60.2 468.2,60.6ZM461.8,64.1 461.2,64.1 460.7,63.5 460.6,62.8 461.0,62.3 462.0,62.4 462.4,62.8 462.3,63.5 462.0,64.0 461.8,64.1Z" fill="none" stroke="#fff" opacity="0.55" stroke-width="0.5" stroke-linejoin="round"/></g><path d="M455.0,60.0 C453.5,60.8 448.8,62.2 446.0,64.5 C443.2,66.8 438.9,70.8 438.0,74.0 C437.1,77.2 439.3,80.8 440.5,84.0 C441.7,87.2 443.8,90.7 445.0,93.0 C446.2,95.3 447.5,97.2 448.0,98.0 M454.5,61.6 C453.3,62.3 449.6,63.9 447.2,66.0 C444.8,68.1 440.9,71.4 440.0,74.4 C439.1,77.4 441.1,81.2 442.1,84.2 C443.1,87.2 444.9,90.5 446.0,92.5 C447.1,94.5 448.2,95.8 448.6,96.5 M454.0,63.2 C453.1,63.9 450.4,65.6 448.4,67.5 C446.4,69.4 442.8,72.0 442.0,74.8 C441.2,77.6 442.9,81.5 443.7,84.4 C444.5,87.3 446.1,90.2 447.0,92.0 C447.9,93.8 448.8,94.5 449.2,95.0 M453.5,64.8 C452.9,65.5 451.2,67.3 449.6,69.0 C448.0,70.7 444.7,72.6 444.0,75.2 C443.3,77.8 444.6,81.9 445.3,84.6 C446.0,87.3 447.2,90.0 448.0,91.5 C448.8,93.0 449.5,93.2 449.8,93.5 M453.0,66.4 C452.6,67.1 452.0,69.0 450.8,70.5 C449.6,72.0 446.6,73.2 446.0,75.6 C445.4,78.0 446.4,82.2 446.9,84.8 C447.4,87.4 448.4,89.8 449.0,91.0 C449.6,92.2 450.2,91.8 450.4,92.0 M452.5,68.0 C452.4,68.7 452.8,70.7 452.0,72.0 C451.2,73.3 448.6,73.8 448.0,76.0 C447.4,78.2 448.2,82.6 448.5,85.0 C448.8,87.4 449.6,89.6 450.0,90.5 C450.4,91.4 450.8,90.5 451.0,90.5 M452.0,69.6 C452.2,70.2 453.5,72.4 453.2,73.5 C452.9,74.6 450.5,74.5 450.0,76.4 C449.5,78.4 449.9,82.9 450.1,85.2 C450.3,87.5 450.8,89.4 451.0,90.0 C451.2,90.6 451.5,89.2 451.6,89.0 M451.5,71.2 C452.0,71.8 454.3,74.1 454.4,75.0 C454.5,75.9 452.4,75.1 452.0,76.8 C451.6,78.5 451.7,83.3 451.7,85.4 C451.7,87.5 451.9,89.2 452.0,89.5 C452.1,89.8 452.2,87.8 452.2,87.5" fill="none" stroke="#000" stroke-width="0.6" stroke-linecap="round"/><path d="M459.0,74.0 C459.0,75.3 459.4,79.0 459.0,82.0 C458.6,85.0 457.1,89.2 456.5,92.0 C455.9,94.8 455.7,97.4 455.5,98.5 M461.2,74.0 C461.2,75.4 461.6,79.5 461.0,82.5 C460.4,85.5 458.2,89.5 457.3,92.2 C456.4,94.9 455.8,97.5 455.5,98.5 M463.4,74.0 C463.3,75.5 463.9,79.9 463.0,83.0 C462.1,86.1 459.4,89.8 458.1,92.4 C456.9,95.0 455.9,97.5 455.5,98.5 M465.6,74.0 C465.5,75.6 466.1,80.4 465.0,83.5 C463.9,86.6 460.5,90.1 458.9,92.6 C457.3,95.1 456.1,97.5 455.5,98.5" fill="none" stroke="#000" stroke-width="0.6" stroke-linecap="round"/>
<path d="M359,140 L366,139 L365,154 L367,170 L368,186 L359,188 Z" fill="#000" opacity="0.5"/><path d="M340.5,199.6 C343,196 350,195.5 356,196 C360,197 362,198.5 363,199.6 Z" fill="#000" opacity="0.6"/><path d="M358.8,189.7 357.5,189.8 353.0,189.6 346.8,189.7 344.0,189.3 342.9,188.7 341.5,188.8 341.1,188.4 340.8,187.9 340.2,183.7 340.5,179.7 340.2,177.2 340.5,174.7 340.0,172.7 340.0,170.4 339.9,168.4 340.2,164.7 339.9,160.2 340.0,157.9 339.9,155.7 340.1,151.7 339.7,148.9 339.4,143.7 339.8,140.7 339.8,138.7 340.2,137.9 341.0,137.5 344.5,136.8 350.2,137.1 355.0,136.8 357.2,137.2 359.0,136.9 364.5,136.8 365.5,137.1 366.2,137.4 367.8,140.3 368.2,140.8 369.0,141.3 370.2,141.5 377.0,141.6 377.8,141.9 378.5,142.7 378.5,143.2 378.3,143.4 376.7,144.2 369.2,144.7 367.5,145.5 367.0,145.9 366.8,146.2 366.0,150.8 365.7,154.7 367.2,167.2 367.5,172.4 367.4,174.7 367.8,177.4 367.7,178.4 367.3,179.4 367.5,179.9 368.1,181.2 368.3,181.9 368.3,182.9 368.0,184.2 368.2,185.4 368.2,185.9 368.0,186.4 367.2,187.1 363.8,188.8 361.0,189.5 358.8,189.7ZM344.7,149.4 345.7,148.7 346.4,147.7 346.6,146.7 346.5,144.7 346.8,143.9 347.2,143.6 348.5,143.4 349.2,143.2 351.8,142.0 352.0,141.7 352.2,141.2 351.7,140.4 350.8,140.0 348.8,140.0 347.0,141.4 345.0,141.8 344.5,142.0 344.1,142.4 343.2,144.2 342.0,145.4 341.7,146.2 342.0,146.9 343.1,148.7 344.0,149.4 344.7,149.4ZM358.4,155.2 359.2,154.8 359.7,154.2 359.7,153.7 359.6,153.2 359.0,152.4 357.2,151.3 356.5,151.1 355.5,151.4 354.5,152.2 354.2,152.9 354.1,153.7 354.2,154.2 354.5,154.6 355.0,154.8 355.3,154.7 356.8,153.9 357.0,154.0 357.6,154.9 358.0,155.2 358.4,155.2ZM344.5,166.4 346.5,165.4 348.1,165.9 349.2,166.2 349.8,166.1 350.2,165.9 351.3,165.2 351.5,164.7 351.0,164.4 348.5,164.3 347.8,164.4 346.5,165.1 345.2,164.3 344.5,164.2 342.8,164.7 342.3,164.9 342.1,165.2 342.5,165.7 343.5,166.3 344.0,166.5 344.5,166.4ZM350.8,177.9 352.0,177.3 353.5,176.8 354.0,176.4 354.2,175.9 354.2,175.2 353.8,174.4 353.2,174.1 352.5,174.0 351.7,174.2 350.5,174.9 350.0,175.0 349.5,174.8 348.8,174.2 348.2,174.0 347.0,174.0 346.2,174.2 344.6,175.2 344.2,175.6 344.1,175.9 344.2,177.2 344.5,177.7 345.0,178.1 345.8,178.1 347.5,177.6 348.2,177.7 349.5,178.2 350.0,178.2 350.8,177.9ZM358.8,184.7 359.2,184.6 359.7,184.2 359.9,183.7 359.8,183.2 357.8,181.7 357.2,181.6 356.8,181.9 355.8,182.9 355.8,183.4 355.9,183.7 357.5,184.5 358.8,184.7ZM341.2,145.2 340.8,145.4 340.5,145.3 340.2,144.7 340.0,143.7 340.3,142.4 341.3,141.2 341.3,139.7 341.5,139.2 343.2,137.9 344.2,137.5 345.5,137.6 347.6,138.4 347.8,138.7 347.7,139.2 347.0,140.3 346.2,140.7 344.2,141.1 343.6,141.4 343.3,141.9 342.5,143.9 341.2,145.2ZM356.8,188.7 355.2,188.9 353.0,188.5 350.8,188.8 349.2,188.8 347.5,188.9 346.8,188.8 344.8,187.5 342.8,186.9 342.6,186.7 342.5,186.2 343.2,184.9 343.0,184.7 342.0,184.9 341.5,184.8 341.0,184.2 340.9,183.2 341.1,181.2 341.3,176.2 341.5,175.4 342.3,174.2 342.1,173.4 341.1,172.4 341.0,171.9 341.1,170.2 340.7,167.9 340.8,167.2 341.0,166.5 341.5,166.4 342.2,166.7 342.8,167.2 343.2,168.1 343.8,168.3 344.2,168.0 345.5,166.8 346.2,166.4 347.2,166.4 349.2,166.9 350.2,166.8 352.4,165.4 352.7,164.9 352.8,164.2 352.6,163.7 352.2,163.6 349.0,163.4 347.0,163.5 345.2,163.5 342.2,164.2 341.5,164.1 341.0,163.7 340.8,162.7 340.6,156.2 341.1,152.7 340.5,148.4 340.5,147.6 340.8,147.1 341.0,147.1 341.5,147.7 342.4,149.2 343.2,149.8 344.2,150.2 345.0,150.0 346.7,148.4 347.2,147.4 347.6,144.7 348.2,144.3 350.5,143.8 352.3,142.2 352.7,141.7 352.7,140.9 352.2,140.2 351.2,139.5 349.4,138.9 349.1,138.7 349.0,138.4 349.2,138.3 352.0,137.8 353.8,138.1 354.7,137.7 355.2,137.7 355.9,137.9 356.8,139.3 357.2,139.5 357.9,139.2 359.0,138.2 360.5,138.1 362.8,137.7 364.2,137.6 365.0,137.9 365.5,138.4 366.7,140.2 367.0,141.4 367.0,142.2 366.7,142.9 365.4,143.9 365.1,144.4 365.1,144.9 365.5,146.2 365.5,146.9 365.0,149.9 365.0,152.4 364.5,154.2 365.3,156.7 365.4,157.9 365.3,159.7 365.9,161.7 365.8,163.9 366.4,166.9 366.6,171.4 366.6,172.4 366.2,173.7 366.7,177.4 366.3,179.7 366.5,180.2 367.4,181.4 367.5,182.2 367.4,182.9 366.6,184.2 366.5,184.7 367.1,185.7 367.2,185.9 366.8,186.4 366.3,186.7 362.5,188.3 360.8,188.7 358.8,188.5 356.8,188.7ZM358.7,155.7 359.8,155.0 360.2,154.2 360.2,153.7 360.0,153.0 359.2,152.0 357.2,150.6 356.8,150.4 355.8,150.7 354.2,151.7 353.8,152.7 353.5,153.9 353.6,154.7 354.0,155.3 354.8,155.6 356.2,155.4 357.8,155.9 358.7,155.7ZM355.3,169.4 355.0,169.4 355.2,169.6 355.3,169.4ZM345.5,179.2 346.3,178.7 347.2,178.3 347.8,178.3 349.2,178.8 350.0,178.8 350.8,178.6 353.0,177.7 355.2,177.6 355.4,175.9 355.7,175.4 356.5,174.4 356.8,173.9 356.8,173.4 356.5,173.2 356.2,173.1 354.5,173.5 352.8,173.3 350.8,173.8 349.0,173.4 347.0,173.5 346.0,173.7 343.8,174.5 343.5,174.7 343.2,175.2 343.4,176.7 343.7,177.7 344.5,178.9 345.0,179.2 345.5,179.2ZM359.4,185.2 360.0,184.8 360.6,183.9 360.7,183.2 360.5,182.8 359.0,181.1 358.5,180.8 357.2,180.6 356.2,181.0 355.5,181.8 355.0,182.7 354.9,183.4 355.1,183.9 355.9,184.4 357.8,185.2 358.8,185.3 359.4,185.2ZM341.0,145.0 340.8,144.9 340.4,144.4 340.3,143.9 340.3,143.2 340.8,142.4 341.8,141.4 342.0,140.9 342.0,139.7 342.3,139.2 343.5,138.1 344.5,137.8 345.6,137.9 346.8,138.7 347.0,139.0 347.0,139.4 346.5,140.1 345.7,140.4 343.8,140.8 343.1,141.2 342.8,141.7 342.6,142.9 342.4,143.7 341.8,144.5 341.0,145.0ZM356.2,188.5 355.0,188.6 353.8,188.1 353.0,188.1 350.8,188.6 349.2,188.4 347.8,188.6 347.0,188.5 343.6,186.4 343.5,185.9 343.9,184.9 343.8,184.4 343.6,184.2 343.0,184.1 341.8,184.4 341.2,183.9 341.1,182.9 341.3,181.4 341.6,176.4 341.7,175.7 342.0,175.3 342.5,175.2 342.8,175.3 343.4,177.7 344.0,178.8 344.8,179.7 345.2,180.0 345.8,180.1 346.0,179.9 346.7,178.9 347.5,178.6 349.2,179.0 350.2,179.0 351.2,178.8 352.8,178.0 353.8,177.9 354.5,178.1 355.5,178.8 355.9,178.7 356.2,178.3 356.3,177.9 355.8,176.7 355.8,176.2 356.0,175.7 356.9,174.4 357.2,173.4 357.0,172.9 356.5,172.7 354.8,173.0 353.0,172.9 351.0,173.5 349.0,173.1 346.8,173.3 345.8,173.5 344.2,174.0 343.2,174.2 342.9,173.9 342.2,173.0 341.4,172.2 341.3,171.7 341.5,169.9 341.2,167.9 341.3,167.2 341.5,167.1 341.8,167.2 341.9,168.4 342.1,168.7 343.2,169.0 344.3,168.7 345.4,167.2 346.2,166.7 347.5,166.7 349.5,167.2 350.2,167.1 352.2,165.9 352.7,165.4 353.1,164.7 353.4,163.4 353.2,163.2 352.8,163.0 351.2,163.2 347.5,163.1 346.2,162.9 342.8,164.0 341.8,163.9 341.2,163.6 340.9,162.7 341.1,160.9 340.8,159.4 340.8,156.2 340.9,155.2 341.5,153.4 341.1,150.7 341.1,148.4 341.2,148.4 341.7,149.2 342.4,149.7 343.8,150.4 344.5,150.5 345.0,150.3 347.2,148.4 347.5,147.9 347.7,147.4 347.8,146.4 347.9,145.2 348.0,144.9 348.7,144.4 350.2,144.2 350.8,144.0 351.7,142.9 352.6,142.2 352.9,141.7 352.9,140.9 352.5,140.2 352.0,139.7 350.7,138.9 350.6,138.7 351.2,138.3 352.0,138.1 353.5,138.5 355.2,138.1 355.7,138.4 356.5,139.8 357.0,140.1 357.8,139.9 359.2,138.6 360.8,138.5 362.8,137.9 364.0,137.9 364.8,138.1 365.2,138.6 366.3,140.2 366.6,141.2 366.6,141.9 366.3,142.7 364.9,143.9 364.7,144.4 365.1,145.9 365.1,146.7 364.5,149.9 364.8,152.2 364.2,154.2 364.9,155.9 365.1,156.9 365.2,158.2 364.9,159.7 365.7,161.7 365.5,163.9 366.1,167.2 366.1,169.2 366.3,171.7 365.8,173.7 366.2,175.7 366.3,177.7 366.0,179.7 366.2,180.4 367.1,181.4 367.3,182.4 367.0,183.2 366.1,184.4 366.2,184.9 366.6,185.9 366.5,186.2 366.0,186.6 363.2,187.8 361.8,188.2 360.5,188.4 358.2,188.1 356.2,188.5ZM358.5,155.9 359.8,155.3 360.3,154.4 360.4,153.9 360.3,153.2 359.7,152.2 357.2,150.3 356.8,150.1 356.0,150.2 354.5,151.2 353.8,151.9 353.4,153.2 353.3,154.7 353.5,155.4 354.2,155.9 356.0,155.7 357.5,156.1 358.5,155.9ZM358.3,168.4 358.8,168.1 359.1,167.2 359.0,166.6 358.8,166.3 358.5,166.3 358.0,166.6 357.9,167.2 358.0,168.3 358.3,168.4ZM355.6,170.2 356.1,169.7 356.0,169.2 355.2,168.7 354.5,168.8 354.3,169.2 354.5,169.9 355.0,170.2 355.6,170.2ZM359.3,185.4 360.1,184.9 360.8,183.9 361.0,183.2 360.8,182.7 359.2,180.8 358.8,180.4 358.2,180.2 357.2,180.2 356.5,180.3 356.0,180.5 354.9,182.4 354.7,183.4 354.8,183.9 355.4,184.4 357.5,185.3 358.5,185.5 359.3,185.4ZM352.4,184.9 352.5,184.7 352.4,184.4 351.8,183.9 351.2,183.6 350.8,183.8 350.7,184.2 351.1,184.7 351.8,185.0 352.4,184.9ZM345.0,140.2 343.6,140.2 343.0,139.9 342.9,139.7 343.2,138.9 344.1,138.2 344.8,138.1 345.2,138.2 346.1,138.9 346.2,139.4 346.1,139.7 345.0,140.2ZM355.8,188.2 355.0,188.2 353.8,187.5 353.2,187.5 352.5,187.6 350.8,188.3 349.2,187.9 347.8,188.1 347.1,187.9 344.4,186.4 344.2,185.9 344.3,184.4 344.0,183.8 343.2,183.7 341.8,183.9 341.4,183.4 341.5,179.9 341.9,176.4 342.0,176.1 342.2,175.8 342.5,175.9 342.8,176.3 343.1,177.7 343.8,178.9 345.1,180.7 345.2,181.2 344.9,182.4 345.0,182.8 345.2,183.0 347.5,183.2 348.2,183.0 348.5,182.7 348.5,182.2 348.2,181.9 347.8,181.8 347.0,181.8 346.8,181.7 346.5,181.4 346.6,180.9 347.4,179.2 348.0,179.1 350.8,179.4 351.1,179.7 351.3,180.7 351.5,181.0 352.0,181.0 352.8,180.7 353.1,180.2 352.8,179.7 352.1,179.2 352.0,178.9 352.5,178.4 353.5,178.2 354.3,178.4 354.7,178.9 354.9,179.7 355.0,180.9 354.5,182.7 354.4,183.7 354.6,184.2 354.9,184.4 357.8,185.6 358.5,185.8 359.2,185.7 360.0,185.3 360.5,184.8 361.1,183.9 361.2,183.2 361.1,182.7 360.1,181.4 359.2,179.9 358.0,179.0 357.5,179.3 357.1,179.2 357.4,178.4 357.4,178.2 356.4,176.9 356.2,176.4 356.3,175.9 357.1,174.7 357.5,173.7 357.4,172.7 357.0,172.2 355.0,172.5 353.0,172.3 351.0,173.2 349.0,172.7 346.0,173.1 344.5,173.7 343.8,173.8 343.0,173.4 341.8,172.0 341.7,171.2 342.2,169.9 342.8,169.6 344.0,169.3 344.5,169.0 345.5,167.4 346.0,167.0 346.5,166.8 347.2,166.8 349.5,167.6 350.2,167.6 351.4,166.7 352.8,165.9 354.3,163.4 353.8,162.7 353.0,162.3 352.5,162.3 349.8,162.7 348.0,162.8 347.2,162.5 346.5,161.9 346.0,162.1 345.2,162.9 343.5,163.6 342.2,163.8 341.5,163.5 341.1,162.7 341.4,160.7 341.1,159.2 341.0,156.2 341.2,155.4 341.8,154.2 342.0,153.4 341.5,151.2 341.5,150.4 341.8,150.1 342.0,150.0 344.2,150.9 344.8,150.9 345.0,150.8 346.0,149.7 346.5,149.3 347.2,149.0 348.0,149.0 348.2,148.8 348.3,145.4 348.5,145.0 349.0,144.7 350.8,144.4 351.7,143.2 352.8,142.2 353.1,141.7 353.1,140.9 352.8,140.1 352.2,139.4 351.8,138.9 351.8,138.7 352.2,138.7 353.2,138.9 354.8,138.7 355.2,138.8 355.8,139.4 356.5,140.8 357.0,141.1 357.2,141.0 359.2,139.1 360.8,138.9 362.5,138.2 363.8,138.2 364.5,138.4 365.0,138.8 366.0,140.2 366.3,141.2 366.0,142.5 365.6,142.9 364.6,143.7 364.3,144.2 364.4,144.7 364.8,146.2 364.6,147.9 364.1,149.9 364.5,152.2 363.8,154.2 364.0,154.7 364.7,155.9 364.9,157.2 364.9,158.2 364.5,159.9 364.7,160.4 365.3,161.2 365.5,161.9 365.2,163.9 365.8,166.9 365.8,169.2 366.0,171.4 365.9,171.9 365.4,173.2 365.9,175.7 365.7,179.9 365.9,180.7 366.8,181.7 367.0,182.4 366.8,183.0 366.0,183.9 365.8,184.4 366.1,185.9 366.0,186.2 365.2,186.7 363.0,187.6 361.5,188.0 360.5,188.1 358.0,187.7 355.8,188.2ZM341.2,144.5 340.8,144.5 340.6,144.2 340.5,143.7 340.6,143.2 341.2,142.5 342.0,142.4 342.2,142.7 342.1,143.4 341.8,144.1 341.2,144.5ZM357.4,148.2 357.4,147.9 357.2,147.8 357.0,147.7 356.8,147.9 357.0,148.3 357.2,148.3 357.4,148.2ZM358.5,156.2 359.5,155.6 360.3,154.9 360.5,154.2 360.4,153.2 360.1,152.4 359.5,151.7 358.1,150.7 357.0,149.7 356.5,149.6 354.5,150.8 353.8,151.7 353.4,152.4 353.1,153.9 352.9,154.9 353.0,155.7 353.5,156.2 354.0,156.4 354.5,156.4 356.0,156.0 357.5,156.4 358.5,156.2ZM355.8,159.4 356.3,159.2 356.4,158.7 356.0,158.2 355.2,158.2 354.9,158.4 354.8,158.9 355.2,159.4 355.8,159.4ZM351.1,161.7 351.2,160.9 350.8,159.8 350.0,159.2 349.2,159.1 349.0,159.4 349.1,159.9 349.8,161.2 350.5,161.9 351.0,161.9 351.1,161.7ZM359.0,160.7 359.1,160.2 358.9,159.9 358.5,159.8 358.2,159.9 358.1,160.2 358.3,160.7 358.5,160.9 358.8,160.9 359.0,160.7ZM358.1,170.4 359.2,167.8 359.4,166.9 359.3,166.2 358.8,165.7 358.2,165.8 357.7,166.2 357.5,166.7 357.4,168.2 357.2,168.7 357.0,168.9 356.5,168.9 355.5,168.3 354.8,168.2 352.2,168.6 350.8,168.4 350.2,168.6 350.0,168.8 349.6,169.7 349.8,170.2 350.2,170.3 351.2,170.0 353.0,169.2 353.5,169.4 354.2,170.3 354.8,170.6 355.5,170.6 356.8,170.3 357.5,170.6 357.8,170.7 358.1,170.4ZM353.1,185.7 353.3,184.9 353.1,184.4 351.5,183.1 350.8,182.9 350.2,183.1 349.9,183.4 349.8,183.9 349.9,184.4 350.3,184.9 352.0,185.8 352.8,185.9 353.1,185.7ZM361.5,187.7 360.5,187.7 358.2,187.3 356.0,187.7 355.3,187.7 354.9,187.4 354.2,186.7 353.9,185.9 354.0,184.9 354.2,184.7 355.2,184.9 358.2,186.0 359.2,186.1 359.8,185.8 360.2,185.4 361.1,184.2 361.5,183.4 361.3,182.7 360.5,181.4 359.9,179.9 359.1,178.9 359.0,178.4 359.0,177.1 358.5,176.7 357.2,176.8 357.0,176.7 356.8,176.2 357.9,173.7 357.7,171.7 358.7,170.4 359.7,166.9 359.7,166.2 359.2,165.3 359.0,165.0 358.8,165.0 357.4,165.7 357.1,166.2 357.1,167.7 356.8,168.2 356.2,168.2 355.4,167.7 355.0,167.2 355.5,166.2 355.6,165.4 355.1,163.4 354.2,162.4 352.2,161.4 351.0,158.8 350.2,158.4 349.5,158.2 348.5,158.5 348.2,159.2 348.3,160.2 349.2,161.4 349.4,161.9 349.3,162.2 348.8,162.4 348.0,162.4 347.5,162.0 347.1,161.2 346.5,161.1 345.9,161.4 345.3,162.4 344.7,162.9 343.0,163.6 342.0,163.6 341.5,163.2 341.3,162.7 341.3,161.9 341.7,160.4 341.4,159.2 341.3,156.4 341.5,155.5 342.3,154.4 342.6,153.4 342.5,152.7 341.9,151.4 341.8,150.9 342.0,150.7 342.2,150.6 342.8,150.6 344.2,151.3 345.0,151.4 345.4,151.2 345.9,150.2 346.5,149.6 347.0,149.5 348.2,149.8 348.8,149.6 349.0,148.9 348.7,147.4 348.9,145.4 349.0,145.2 349.5,145.0 351.0,144.9 351.9,143.2 353.2,142.2 353.4,141.7 353.0,139.9 353.2,139.4 354.5,139.2 355.2,139.5 355.8,140.2 356.2,141.6 357.5,142.4 357.8,142.2 358.3,140.7 359.2,139.7 360.8,139.2 362.2,138.6 363.2,138.4 364.2,138.7 364.9,139.2 365.6,140.2 365.8,141.2 365.8,141.9 365.6,142.4 364.5,143.4 364.0,144.2 364.1,144.7 364.4,145.7 364.5,146.4 363.8,150.2 364.3,152.2 363.6,154.2 363.7,154.7 364.5,155.9 364.7,156.9 364.7,157.9 364.2,159.4 364.1,160.2 364.2,160.7 365.0,161.4 365.1,161.7 365.2,162.2 364.8,163.9 365.5,166.9 365.3,168.9 365.5,171.4 365.0,172.9 365.6,175.4 365.3,180.4 365.5,181.3 366.4,181.9 366.5,182.4 365.4,184.2 365.4,184.7 365.7,185.7 365.5,186.2 364.2,186.9 361.5,187.7ZM344.8,139.5 344.3,139.4 344.2,139.2 344.2,138.9 344.5,138.8 345.0,138.9 345.0,139.4 344.8,139.5ZM356.8,144.7 357.3,144.2 357.8,143.4 357.8,142.8 357.5,142.6 357.2,142.9 355.8,143.9 355.8,144.3 356.0,144.7 356.2,144.8 356.8,144.7ZM341.2,144.1 341.0,143.9 341.0,143.4 341.2,143.1 341.5,143.1 341.7,143.4 341.5,143.9 341.2,144.1ZM359.0,161.4 359.5,160.9 359.7,160.4 359.2,159.5 358.8,159.1 357.5,159.1 356.8,158.0 355.1,157.2 355.1,156.9 355.5,156.6 356.0,156.4 357.2,156.8 358.0,156.7 360.0,155.5 360.5,154.9 360.7,154.4 360.7,153.7 360.4,152.7 359.7,151.7 358.2,150.6 357.7,149.9 357.6,149.2 358.0,148.4 358.1,147.9 357.8,147.4 357.0,147.0 356.5,147.0 356.1,147.2 355.2,148.1 353.8,147.7 353.0,147.7 352.6,148.2 352.5,148.7 352.5,149.2 353.0,149.7 353.5,149.8 354.0,149.7 355.2,148.7 355.5,148.8 355.6,149.2 355.3,149.7 354.2,150.6 353.6,151.4 352.7,154.4 352.0,155.7 352.1,156.4 352.5,156.9 354.0,157.1 354.6,157.4 354.3,158.9 354.5,159.4 354.8,159.6 355.5,159.8 357.2,159.8 358.2,161.6 358.5,161.7 359.0,161.4ZM348.0,154.4 348.0,154.2 347.8,153.9 347.2,153.7 347.1,153.9 347.0,154.2 347.2,154.6 348.0,154.4ZM346.6,158.2 346.8,157.7 346.2,155.7 346.0,155.5 345.5,155.5 344.4,155.7 344.2,156.2 344.5,156.9 345.8,158.2 346.2,158.3 346.6,158.2ZM359.1,164.2 359.3,163.9 359.2,163.6 359.0,163.3 358.8,163.3 358.7,163.7 358.8,164.0 359.0,164.3 359.1,164.2ZM352.0,167.7 351.6,167.4 351.7,167.2 352.8,166.6 353.8,165.6 354.1,165.4 354.1,165.9 354.0,166.7 353.7,166.9 352.0,167.7ZM344.8,173.2 343.8,173.4 343.1,172.9 342.1,171.7 342.2,171.2 342.5,170.8 343.2,170.1 344.8,169.3 345.8,167.6 346.2,167.2 347.0,167.0 347.8,167.1 349.2,167.9 349.4,168.4 348.9,170.2 349.2,171.7 349.0,171.9 348.0,172.5 345.8,172.8 344.8,173.2ZM355.8,172.0 354.8,172.0 352.8,171.2 352.4,170.9 352.3,170.7 352.4,170.4 352.8,170.1 353.2,170.1 354.5,171.0 356.0,171.0 356.6,171.2 356.6,171.4 356.4,171.7 355.8,172.0ZM351.0,172.7 350.5,172.7 350.0,172.4 349.6,171.9 349.7,171.7 350.5,171.3 351.1,171.4 351.5,172.2 351.4,172.4 351.0,172.7ZM343.8,183.2 342.2,183.4 342.0,183.4 341.7,183.2 341.7,179.7 342.0,178.5 342.2,177.9 342.5,177.6 344.6,180.4 344.7,180.9 344.4,182.7 344.2,182.9 343.8,183.2ZM354.0,179.5 353.8,179.6 353.2,179.4 352.9,178.9 353.0,178.7 353.5,178.6 353.8,178.7 354.0,178.9 354.0,179.5ZM350.2,182.2 349.8,182.2 349.5,182.0 348.6,180.9 348.3,180.4 348.4,179.9 349.2,179.8 350.0,179.9 350.2,180.1 350.8,181.7 350.7,181.9 350.2,182.2ZM353.8,184.1 353.0,183.8 352.2,183.3 351.6,182.4 351.6,181.9 352.5,181.3 353.5,180.9 354.0,180.8 354.4,181.2 354.4,181.9 354.1,183.4 354.0,183.8 353.8,184.1ZM347.0,187.2 345.8,186.9 344.8,186.2 344.6,185.7 344.8,184.4 345.0,183.9 345.2,183.7 346.0,183.6 347.2,183.9 348.5,183.9 348.6,184.2 348.5,184.4 347.8,185.3 347.6,186.9 347.0,187.2ZM351.2,187.7 350.5,187.8 350.0,187.4 349.9,186.7 350.2,186.1 350.5,186.0 351.0,186.1 351.7,186.7 351.8,187.2 351.2,187.7ZM361.5,187.5 360.2,187.3 359.6,186.9 359.4,186.7 361.4,184.2 361.7,183.7 361.8,183.2 361.6,182.7 360.8,181.4 360.4,179.9 359.5,178.7 359.6,177.2 359.5,176.7 359.0,176.1 357.8,175.9 357.6,175.7 357.7,175.2 358.3,173.7 358.2,171.9 359.1,170.4 359.7,168.2 360.2,166.7 360.2,166.2 359.8,164.9 360.0,163.7 359.2,162.2 359.4,161.7 360.1,160.9 360.2,160.4 359.9,159.7 359.2,158.8 358.8,158.4 358.0,158.2 357.7,157.7 358.0,157.2 360.2,155.6 360.8,154.9 360.9,153.9 360.5,152.7 359.8,151.4 358.5,150.4 358.1,149.9 358.1,149.4 358.5,148.2 358.3,147.4 357.8,146.9 356.5,146.3 356.2,146.3 355.2,147.0 354.8,147.1 352.8,146.6 352.4,146.7 352.0,148.2 352.0,149.7 352.2,150.1 353.3,150.4 353.5,150.7 353.5,150.9 352.5,154.1 352.0,154.8 351.5,155.1 350.8,155.1 349.6,153.9 346.7,152.2 346.2,151.6 346.1,150.9 346.2,150.3 346.8,150.0 348.2,150.5 349.0,150.2 349.5,149.7 349.6,149.2 349.1,147.4 349.6,145.7 349.8,145.6 350.2,145.6 352.0,146.2 352.1,145.9 351.8,144.7 351.8,143.9 352.2,143.2 353.6,142.2 353.7,141.7 353.4,140.2 353.5,139.9 353.8,139.7 354.8,139.7 355.3,140.2 355.5,140.7 355.4,141.4 355.2,142.1 354.8,142.7 354.8,143.2 355.1,144.7 355.8,145.4 356.2,145.7 356.5,145.6 357.0,145.2 358.5,143.4 358.6,142.9 358.7,141.2 359.1,140.4 359.8,140.0 360.8,139.6 362.0,139.0 363.0,138.8 364.0,139.0 364.8,139.6 365.2,140.2 365.4,141.2 365.2,142.2 364.1,143.4 363.7,144.2 364.2,145.7 364.2,146.4 363.5,150.4 364.0,152.2 363.3,154.2 363.4,154.7 364.4,156.2 364.5,157.7 363.5,160.5 363.2,160.9 362.5,161.4 362.5,161.7 362.6,161.9 363.1,162.2 363.7,162.2 364.2,162.0 364.5,162.2 364.5,164.7 365.0,166.2 365.2,167.2 364.8,168.7 365.1,171.2 364.4,172.7 365.2,174.7 365.4,175.4 364.7,180.4 364.9,181.7 365.4,182.9 365.0,184.2 365.3,185.7 365.1,186.2 364.0,186.8 361.5,187.5ZM351.3,151.7 351.5,150.9 351.4,150.7 351.0,150.6 350.7,150.7 350.6,151.2 350.8,151.7 351.3,151.7ZM344.8,155.0 343.5,154.9 343.2,154.7 343.1,154.2 343.1,152.7 342.7,151.7 342.8,151.3 343.2,151.4 345.0,152.1 345.6,152.4 346.0,152.9 346.2,153.7 346.0,154.4 345.5,154.8 344.8,155.0ZM342.8,163.5 342.2,163.5 341.8,163.2 341.5,162.4 342.2,160.2 341.8,158.9 341.7,156.2 342.0,155.7 342.8,155.3 343.1,155.7 343.5,157.4 344.8,158.7 345.2,158.9 347.0,159.0 347.3,159.2 347.4,159.7 347.0,160.3 345.5,161.0 345.0,162.2 344.6,162.7 343.7,163.2 342.8,163.5ZM348.8,157.7 348.2,157.8 347.8,157.8 347.3,157.2 347.1,156.2 347.5,155.6 348.5,155.5 349.0,155.7 349.4,156.2 349.6,156.7 349.6,157.2 348.8,157.7ZM357.5,164.7 357.0,164.8 356.8,164.7 355.1,162.7 352.6,160.9 352.2,160.2 352.0,158.9 352.0,158.4 352.4,157.9 353.0,157.7 353.5,157.7 353.8,157.9 353.9,159.2 354.2,159.8 355.0,160.1 356.8,160.3 357.2,160.7 357.8,162.2 357.8,164.2 357.5,164.7ZM344.6,159.9 344.7,159.4 344.5,159.1 344.2,159.2 343.9,159.7 344.0,159.9 344.2,160.1 344.6,159.9ZM344.8,172.7 344.0,172.9 343.5,172.7 343.0,171.7 343.2,171.2 343.8,170.4 345.0,169.6 345.9,167.9 346.3,167.4 346.8,167.3 347.2,167.2 348.4,167.7 348.8,168.2 348.9,168.7 347.9,170.7 347.9,171.4 347.8,171.9 347.2,172.1 345.5,172.3 344.8,172.7ZM343.8,182.7 343.2,182.9 342.5,182.9 342.2,182.7 342.2,182.4 341.9,179.9 342.2,178.9 342.5,178.6 343.0,178.8 344.3,180.7 344.4,181.7 344.0,182.4 343.8,182.7ZM353.5,183.6 352.8,183.3 352.4,182.9 352.2,182.4 352.3,181.9 352.5,181.7 353.2,181.4 353.8,181.5 354.1,181.9 354.0,182.9 353.8,183.4 353.5,183.6ZM346.8,186.5 346.5,186.6 346.0,186.6 345.5,186.3 345.2,185.9 345.1,185.4 345.2,184.8 345.5,184.4 345.8,184.3 346.2,184.3 346.9,184.7 347.0,185.7 346.8,186.5ZM357.5,187.0 356.2,187.1 355.5,186.9 354.7,186.2 354.5,185.7 354.6,185.4 354.8,185.3 355.2,185.3 357.6,186.2 358.0,186.4 358.1,186.7 357.5,187.0ZM362.2,160.5 361.5,160.3 360.5,159.6 359.1,157.4 359.0,157.2 359.3,156.7 360.9,155.2 361.2,154.7 361.2,154.2 360.8,152.9 360.1,151.4 358.5,149.9 358.5,149.4 358.7,148.4 358.8,147.7 358.5,147.1 357.4,146.2 357.3,145.7 357.7,144.9 359.0,143.4 359.1,141.7 359.5,140.8 360.0,140.4 362.0,139.4 362.8,139.2 363.8,139.4 364.5,139.9 364.8,140.4 364.9,141.2 364.7,142.2 363.7,143.4 363.4,144.2 364.0,146.2 363.8,148.1 363.2,150.4 363.8,152.2 363.0,154.2 363.1,154.7 364.2,156.2 364.3,156.9 364.3,157.7 364.0,158.5 363.1,159.9 362.8,160.3 362.2,160.5ZM354.8,141.3 354.2,141.4 354.0,141.2 353.8,140.7 354.0,140.2 354.5,140.1 354.9,140.4 354.9,140.9 354.8,141.3ZM354.0,145.3 353.0,145.3 352.2,144.7 352.1,144.2 352.2,143.7 352.8,143.1 353.5,142.9 354.0,143.2 354.3,143.9 354.3,144.7 354.2,145.1 354.0,145.3ZM351.0,149.5 350.6,149.4 350.2,149.1 349.5,147.7 349.5,147.2 349.8,146.7 350.2,146.4 351.0,146.7 351.5,147.4 351.4,148.9 351.2,149.4 351.0,149.5ZM351.8,154.3 351.2,154.4 351.0,154.3 350.0,153.1 349.0,152.8 348.5,152.5 348.3,151.9 348.5,151.4 349.0,151.0 349.5,150.9 349.8,151.1 350.2,152.4 350.5,152.6 350.8,152.6 351.7,152.2 352.4,151.2 352.8,151.1 352.8,151.4 352.5,153.2 352.2,153.8 351.8,154.3ZM345.2,154.3 344.5,154.4 343.9,153.9 343.8,153.2 344.0,152.6 344.2,152.5 344.8,152.6 345.4,153.2 345.6,153.9 345.2,154.3ZM348.2,157.0 348.0,157.0 347.8,156.7 348.0,156.3 348.5,156.4 348.5,156.9 348.2,157.0ZM356.8,163.0 356.5,163.1 356.0,162.9 353.5,160.9 353.1,160.2 353.0,159.3 353.5,159.9 354.0,160.3 356.2,160.6 356.8,160.8 357.0,161.2 357.2,161.9 357.1,162.7 356.8,163.0ZM343.0,163.3 342.2,163.3 341.8,162.9 341.7,162.2 342.0,161.5 342.5,161.0 343.0,160.7 343.8,160.9 344.5,161.2 344.7,161.7 344.5,162.4 343.8,162.9 343.0,163.3ZM362.5,187.0 361.2,187.2 360.8,187.1 360.3,186.7 360.3,186.4 360.4,185.9 361.9,183.7 362.1,183.2 361.1,181.4 360.9,179.7 359.9,178.4 360.0,176.9 359.3,175.2 359.7,173.9 359.5,173.5 358.9,172.9 358.7,172.4 359.8,169.9 360.0,167.9 360.8,166.4 360.4,165.2 360.4,163.4 359.8,162.2 360.1,161.7 360.8,161.4 361.2,161.6 362.2,162.4 363.5,163.0 363.9,163.4 364.0,164.2 363.6,165.7 364.5,166.9 364.3,168.7 364.7,170.7 364.5,171.4 363.8,172.2 363.7,172.7 364.8,174.2 365.1,175.4 365.0,176.2 364.2,178.3 364.0,178.5 363.8,178.4 363.0,177.9 362.5,177.8 362.2,177.9 362.0,178.4 362.0,178.9 362.2,179.4 363.5,179.9 364.1,180.7 364.4,181.7 364.5,184.4 364.8,185.7 364.8,186.0 364.2,186.4 362.5,187.0ZM347.0,170.0 346.0,170.0 345.8,169.7 345.8,169.4 346.0,168.4 346.2,167.9 346.8,167.5 347.2,167.5 347.8,167.6 348.2,167.9 348.4,168.2 348.4,168.7 348.0,169.4 347.0,170.0ZM343.2,182.5 342.6,182.2 342.1,180.9 342.1,179.9 342.5,179.2 342.8,179.2 343.2,179.6 343.9,180.4 344.1,180.9 343.9,181.9 343.8,182.2 343.2,182.5ZM353.5,183.0 353.0,183.0 352.7,182.7 352.7,182.2 353.0,181.9 353.5,181.9 353.7,182.2 353.7,182.7 353.5,183.0ZM346.2,185.7 346.0,185.9 345.8,185.7 345.8,185.4 346.0,185.3 346.2,185.4 346.2,185.7ZM362.8,159.3 362.2,159.3 360.8,158.6 360.2,158.2 359.7,157.2 359.8,156.7 361.4,155.2 361.6,154.4 360.2,151.0 358.9,149.7 359.0,147.4 358.8,146.9 358.0,146.2 357.8,145.7 358.0,145.2 358.4,144.7 359.6,143.9 359.7,143.7 359.5,142.2 359.8,141.2 360.2,140.8 362.0,139.9 362.8,139.7 363.5,139.9 364.1,140.2 364.3,140.7 364.4,141.2 364.2,142.2 363.1,144.2 363.7,146.2 363.4,148.4 362.8,150.7 363.5,152.2 363.4,152.7 362.7,153.9 362.6,154.4 363.8,155.9 364.0,156.4 364.1,157.2 363.8,158.3 363.2,159.0 362.8,159.3ZM353.5,144.5 353.0,144.6 352.5,144.3 352.5,143.7 352.8,143.4 353.2,143.3 353.5,143.4 353.7,143.9 353.5,144.5ZM350.8,148.0 350.5,148.2 350.2,148.0 350.1,147.7 350.2,147.4 350.6,147.4 350.8,148.0ZM351.5,153.5 351.7,153.4 351.5,153.5ZM356.5,162.0 356.2,162.2 355.8,162.0 355.3,161.7 354.9,161.2 355.5,161.0 356.2,161.2 356.5,161.5 356.5,162.0ZM343.0,163.0 342.5,163.1 342.2,162.9 341.9,162.4 342.1,161.9 342.8,161.4 343.2,161.3 343.8,161.5 344.0,161.7 344.1,162.2 343.7,162.7 343.0,163.0ZM362.2,166.3 361.5,165.9 360.9,165.2 361.0,163.1 361.2,162.8 362.8,163.2 363.4,163.7 363.4,164.4 362.2,166.3ZM361.0,178.5 360.8,178.5 360.6,178.2 360.6,176.9 360.1,175.7 360.3,173.7 359.9,171.9 359.9,171.2 360.6,169.4 360.4,168.4 360.5,167.9 360.8,167.7 361.8,167.2 362.5,166.6 363.4,167.2 363.8,167.9 364.3,170.4 364.0,171.2 363.4,171.9 363.2,172.7 364.5,174.2 364.8,174.9 364.8,175.7 364.5,176.6 364.0,177.2 363.5,177.3 362.2,176.8 361.7,176.9 361.4,177.4 361.0,178.5ZM347.2,169.2 346.8,169.2 346.4,168.9 346.5,168.2 347.0,167.8 347.6,167.9 347.9,168.4 347.8,168.9 347.2,169.2ZM343.2,182.0 342.8,181.7 342.4,180.9 342.4,180.2 342.5,179.8 342.8,179.7 343.2,180.1 343.8,180.9 343.8,181.5 343.5,181.9 343.2,182.0ZM362.2,186.7 361.2,186.8 361.0,186.7 360.7,186.2 361.2,185.1 362.5,183.4 362.4,182.9 361.7,181.9 361.4,181.2 361.6,180.4 362.0,180.2 363.2,180.6 363.8,181.2 363.9,181.9 363.7,183.4 364.3,185.4 364.2,185.9 363.8,186.2 362.2,186.7ZM361.5,150.3 361.0,150.3 360.5,150.1 359.8,149.7 359.5,149.4 359.3,148.9 359.3,146.9 359.0,146.4 358.5,145.8 358.5,145.4 359.0,144.9 359.2,145.0 360.5,145.6 361.0,145.6 361.3,145.4 361.5,145.2 361.6,144.7 360.2,143.2 360.0,142.7 360.0,141.9 360.2,141.4 360.5,141.2 362.2,140.5 362.8,140.4 363.5,140.7 363.8,141.4 363.6,142.4 362.6,144.4 363.3,145.7 363.4,146.4 362.8,149.4 362.2,150.0 361.5,150.3ZM362.2,153.7 361.8,153.7 361.1,152.4 360.9,151.4 361.2,150.9 361.5,150.9 362.2,151.1 363.1,151.9 363.2,152.4 363.0,152.9 362.2,153.7ZM363.0,158.6 362.2,158.6 361.0,158.0 360.6,157.7 360.3,157.2 360.4,156.7 360.5,156.4 361.8,155.4 362.2,155.1 362.8,155.2 363.2,155.6 363.8,156.4 363.9,156.9 363.7,157.7 363.4,158.2 363.0,158.6ZM342.8,162.7 342.5,162.7 342.3,162.4 342.4,162.2 342.8,161.9 343.2,161.9 343.4,162.2 343.3,162.4 342.8,162.7ZM362.0,165.0 361.8,165.0 361.5,164.7 361.5,164.2 361.8,163.8 362.2,163.7 362.7,163.9 362.7,164.2 362.5,164.7 362.0,165.0ZM364.0,176.6 363.5,176.7 362.2,176.3 361.2,176.1 360.9,175.9 360.7,175.4 360.8,173.9 360.5,171.7 360.5,170.9 361.6,168.4 362.5,167.8 363.0,167.9 363.2,168.2 363.8,169.7 363.8,170.7 363.0,171.7 362.8,172.4 363.1,173.2 364.2,174.2 364.6,174.9 364.5,175.9 364.0,176.6ZM343.0,181.0 343.0,180.7 343.1,180.9 343.0,181.0ZM363.0,182.6 362.5,182.4 361.9,181.7 361.9,181.2 362.2,180.8 363.0,180.9 363.4,181.4 363.4,182.2 363.0,182.6ZM361.8,186.5 361.2,186.2 361.3,185.7 361.5,185.2 362.2,184.3 362.8,184.1 363.0,184.1 363.5,184.7 363.6,185.2 363.6,185.7 362.8,186.2 361.8,186.5ZM362.2,143.7 361.8,143.8 361.0,143.3 360.5,142.7 360.5,142.2 360.6,141.9 361.0,141.7 362.8,141.3 363.2,141.7 363.2,142.4 362.8,143.2 362.2,143.7ZM362.5,146.6 362.1,146.4 362.1,146.2 362.2,145.8 362.5,145.7 362.8,145.8 362.8,146.2 362.8,146.4 362.5,146.6ZM361.0,149.3 360.2,149.3 360.0,149.2 359.8,148.7 359.8,146.9 360.0,146.6 360.2,146.4 361.0,146.6 361.2,146.9 361.2,147.7 361.5,148.7 361.4,148.9 361.0,149.3ZM362.0,153.2 361.6,152.9 361.4,152.4 361.4,151.9 361.8,151.7 362.2,151.7 362.8,152.2 362.8,152.7 362.6,152.9 362.0,153.2ZM363.0,158.0 362.5,158.1 362.0,158.0 361.4,157.7 361.0,157.2 360.9,156.9 361.2,156.4 362.2,155.6 363.0,155.8 363.5,156.4 363.5,157.3 363.0,158.0ZM363.5,176.2 361.8,175.6 361.5,175.4 361.3,174.9 361.0,170.9 361.9,169.2 362.5,168.6 363.0,168.8 363.3,169.2 363.4,169.9 363.3,170.4 362.5,171.9 362.5,172.9 362.8,173.4 363.9,174.2 364.3,174.9 364.2,175.7 364.0,176.0 363.5,176.2ZM362.5,185.7 362.0,185.8 361.9,185.4 362.2,184.9 362.5,184.8 362.8,184.9 362.9,185.2 362.8,185.4 362.5,185.7ZM362.8,157.6 362.0,157.5 361.6,156.9 361.8,156.4 362.5,156.1 363.0,156.2 363.2,156.7 363.1,157.2 362.8,157.6ZM361.8,171.5 361.7,170.7 362.0,170.0 362.5,169.5 362.8,169.6 362.8,169.9 362.8,170.5 362.0,171.4 361.8,171.5ZM363.8,175.7 363.0,175.8 362.1,175.2 361.9,174.7 362.0,173.9 362.2,173.8 362.5,173.8 363.2,174.1 363.8,174.4 364.0,175.2 363.8,175.7ZM363.5,175.3 363.2,175.3 362.8,175.2 362.6,174.7 362.8,174.5 363.2,174.5 363.6,174.9 363.5,175.3Z" fill="none" stroke="#000" stroke-width="0.6" stroke-linejoin="round"/><path d="M367,140.5 C372,139.5 378,139.5 381.5,141.5 C383,143.5 381,146 377,146.5 C373,147 369,147 367.5,148 C366.5,154 367.5,162 368.5,168 C369.5,172 372,174 376,173.5 C379,173 382,171 386,170.5 C391,170 395.5,172.5 396.5,177 C397.5,182 395,186 390,186.8 C386,187.2 382,185.5 378,182.5 C375,181 372,182 369.5,185 C367,189 364,193 362,197 L361,200" fill="none" stroke="#000" stroke-width="0.75"/><ellipse cx="388.8" cy="178.5" rx="4.4" ry="3.8" fill="none" stroke="#000" stroke-width="0.75"/><path d="M341,191 C347,190 353,191 358,192.5 C361,193.5 362,195 360,196.5" fill="none" stroke="#000" stroke-width="0.6"/><path d="M343,193 C348,192.5 352,193.5 355,195" fill="none" stroke="#000" stroke-width="0.6"/><rect x="337.8" y="137.8" width="3.4" height="62.2" fill="#000"/>
<defs><clipPath id="cb1"><path d="M453,153 C457,149.5 467,149.5 470.5,153.5 C473,158 472.5,165 469.5,170 C466,174 462,176 458,176 C455,174 453.5,171 453,168 C452.5,162 452.5,157 453,153 Z"/></clipPath></defs><path d="M453,153 C457,149.5 467,149.5 470.5,153.5 C473,158 472.5,165 469.5,170 C466,174 462,176 458,176 C455,174 453.5,171 453,168 C452.5,162 452.5,157 453,153 Z" fill="#111"/><path d="M455,174 L459,186 L467,172 Z" fill="#000" opacity="0.45"/><path d="M460,160 l1.5,2 M457,166 l2,1 M464,165 l1,2" stroke="#fff" stroke-width="0.8"/><path d="M438,199.6 A12,2.7 0 0 1 462,199.6 Z" fill="#111"/><g clip-path="url(#cb1)"><path d="M452.0,148.0 452.8,148.1 453.1,148.0M456.4,148.0 457.3,149.2 458.2,149.8 458.5,149.8 459.0,149.4 459.5,148.8 459.7,148.0M468.3,148.0 468.5,148.5 468.8,148.5 469.1,148.0M470.9,148.0 471.0,148.5 471.2,148.7 471.8,148.7 472.8,148.4 473.8,148.5M459.2,152.0 459.0,151.5 458.5,151.3 457.8,151.7 456.9,151.8 457.0,151.8 457.8,151.8 459.0,152.2 459.2,152.0ZM469.4,153.2 469.5,152.8 469.2,152.1 469.0,151.8 468.5,151.7 468.2,151.9 468.1,152.2 468.2,153.0 468.8,153.4 469.2,153.4 469.4,153.2ZM473.8,151.6 473.0,151.8 473.0,152.0 473.2,152.3 473.8,152.6M453.8,152.8 453.7,152.5 453.3,152.5 453.5,152.9 453.8,152.8ZM462.3,156.2 462.8,156.0 463.4,155.2 463.5,155.0 463.3,154.8 463.0,154.8 461.4,155.8 461.5,156.0 461.8,156.3 462.3,156.2ZM457.2,157.0 457.5,156.8 457.8,156.2 457.8,155.9 457.5,155.7 457.0,155.7 456.5,156.5 456.7,157.0 457.2,157.0ZM452.0,157.4 452.2,157.0 452.0,156.7M461.6,159.0 461.5,158.5 461.2,158.4 461.0,158.4 460.8,158.8 460.8,159.0 461.0,159.2 461.2,159.2 461.6,159.0ZM467.4,165.2 468.0,164.8 468.9,163.8 469.9,163.0 470.0,162.5 469.7,162.0 469.2,161.8 469.0,161.8 468.8,162.0 468.6,162.8 468.2,163.2 467.0,163.5 466.8,163.7 466.6,164.2 466.7,165.0 467.0,165.3 467.4,165.2ZM458.5,164.5 458.8,164.5 459.0,164.2 459.0,164.0 458.8,163.7 458.5,163.6 458.2,163.8 458.1,164.0 458.2,164.3 458.5,164.5ZM471.0,168.5 471.6,168.2 472.0,167.8 472.7,165.5 472.7,165.2 472.5,165.0 470.8,165.0 470.2,165.2 470.0,165.5 469.9,166.0 470.2,167.5 470.1,168.5 470.2,168.6 471.0,168.5ZM462.8,174.5 462.8,174.1 462.4,174.0 462.4,174.2 462.5,174.6 462.8,174.5ZM473.8,175.5 473.0,175.8 472.7,176.2 473.0,176.8 473.8,177.3M461.6,176.8 461.9,176.2 461.8,175.7 461.5,175.7 461.1,176.0 460.6,176.8 461.0,177.0 461.6,176.8ZM455.0,177.8 454.9,177.2 454.5,176.6 454.0,176.4 453.7,176.8 453.5,177.8M467.1,148.0 467.0,149.2 466.8,149.6 466.5,149.7 466.0,149.6 465.5,149.2 465.2,148.8 465.2,148.0M452.0,149.4 452.8,149.8 453.1,150.2 452.7,151.0 452.0,151.3M465.8,152.8 465.2,152.8 465.0,152.5 465.0,152.1 465.2,151.8 465.8,151.9 466.1,152.2 466.0,152.7 465.8,152.8ZM467.8,159.1 467.2,159.1 466.8,158.8 466.0,158.0 465.8,157.2 465.8,156.8 466.2,156.2 466.8,156.0 468.0,156.0 468.2,156.1 468.5,156.4 468.6,157.2 468.5,158.0 468.2,158.7 467.8,159.1ZM473.8,159.0 473.5,158.8 473.4,158.5 473.5,158.1 473.8,157.9M452.0,158.9 453.5,158.9 453.8,159.2 453.8,159.5 453.6,160.0 453.2,160.5 452.8,160.7 452.0,160.8M458.0,167.8 457.7,167.5 457.7,167.0 458.0,166.6 458.5,166.6 458.6,166.8 458.5,167.2 458.0,167.8ZM467.5,169.9 466.8,169.7 466.4,169.5 466.3,169.0 466.5,168.7 466.8,168.6 467.3,168.8 467.7,169.8 467.5,169.9ZM458.0,170.2 458.0,169.8 458.1,170.0 458.0,170.2ZM469.0,171.9 468.5,171.8 468.1,171.2 467.8,169.9 469.0,170.2 469.4,170.8 469.4,171.5 469.0,171.9ZM465.2,173.4 464.5,173.3 463.8,172.8 463.4,172.2 463.5,171.8 464.5,171.1 465.0,171.1 465.5,171.3 465.8,171.8 465.9,172.5 465.7,173.0 465.2,173.4ZM473.8,174.3 472.8,174.1 472.4,173.8 472.4,173.5 472.9,172.5 473.2,171.5 473.8,171.2M452.0,176.5 452.5,177.0 452.7,177.8M457.0,177.8 457.2,177.4 457.5,177.4 457.8,177.8" fill="none" stroke="#fff" opacity="0.55" stroke-width="0.5" stroke-linejoin="round"/></g><path d="M453.5,154.0 C451.8,155.1 446.2,157.8 443.0,160.5 C439.8,163.2 434.8,167.2 434.0,170.5 C433.2,173.8 436.1,176.9 438.0,180.0 C439.9,183.1 443.2,186.2 445.5,189.0 C447.8,191.8 450.9,195.7 452.0,197.0 M453.3,155.9 C451.8,156.9 447.2,159.4 444.3,161.9 C441.4,164.4 436.9,168.0 436.1,171.0 C435.3,174.0 438.0,177.2 439.7,180.1 C441.4,183.0 444.3,186.0 446.4,188.5 C448.5,191.0 451.2,193.8 452.2,194.9 M453.1,157.8 C451.9,158.7 448.1,161.0 445.6,163.3 C443.1,165.6 438.9,168.7 438.2,171.5 C437.5,174.3 439.9,177.4 441.4,180.2 C442.9,182.9 445.5,185.9 447.3,188.0 C449.1,190.1 451.5,192.0 452.4,192.8 M452.9,159.7 C451.9,160.5 449.0,162.6 446.9,164.7 C444.8,166.8 440.9,169.4 440.3,172.0 C439.7,174.6 441.8,177.7 443.1,180.3 C444.4,182.9 446.6,185.8 448.2,187.5 C449.8,189.2 451.9,190.2 452.6,190.7 M452.7,161.6 C451.9,162.3 449.9,164.3 448.2,166.1 C446.5,167.9 443.0,170.1 442.4,172.5 C441.8,174.9 443.7,178.0 444.8,180.4 C445.9,182.8 447.8,185.6 449.1,187.0 C450.4,188.4 452.2,188.3 452.8,188.6 M452.5,163.5 C452.0,164.2 450.8,165.9 449.5,167.5 C448.2,169.1 445.0,170.8 444.5,173.0 C444.0,175.2 445.6,178.2 446.5,180.5 C447.4,182.8 448.9,185.5 450.0,186.5 C451.1,187.5 452.5,186.5 453.0,186.5 M452.3,165.4 C452.1,166.0 451.8,167.6 450.8,168.9 C449.9,170.2 447.0,171.6 446.6,173.5 C446.2,175.4 447.5,178.5 448.2,180.6 C448.9,182.7 450.1,185.4 450.9,186.0 C451.7,186.6 452.8,184.7 453.2,184.4 M452.1,167.3 C452.1,167.8 452.7,169.2 452.1,170.3 C451.5,171.4 449.1,172.3 448.7,174.0 C448.3,175.7 449.4,178.8 449.9,180.7 C450.4,182.6 451.2,185.2 451.8,185.5 C452.4,185.8 453.1,182.8 453.4,182.3" fill="none" stroke="#000" stroke-width="0.6" stroke-linecap="round"/><path d="M470.0,169.0 C469.6,170.5 469.0,174.7 467.5,178.0 C466.0,181.3 462.9,185.8 461.0,189.0 C459.1,192.2 456.8,195.7 456.0,197.0 M468.5,169.5 C468.1,171.0 467.3,175.1 466.0,178.3 C464.7,181.6 462.2,185.9 460.5,189.0 C458.8,192.1 456.8,195.7 456.0,197.0 M467.0,170.0 C466.6,171.4 465.7,175.4 464.5,178.6 C463.3,181.8 461.4,185.9 460.0,189.0 C458.6,192.1 456.7,195.7 456.0,197.0 M465.5,170.5 C465.1,171.9 464.0,175.8 463.0,178.9 C462.0,182.0 460.7,186.0 459.5,189.0 C458.3,192.0 456.6,195.7 456.0,197.0" fill="none" stroke="#000" stroke-width="0.6" stroke-linecap="round"/>
<rect x="337.5" y="33" width="73.5" height="74.2" fill="none" stroke="#000" stroke-width="1.3"/>
<rect x="430.2" y="32" width="73.3" height="73.5" fill="none" stroke="#000" stroke-width="1.3"/>
<rect x="337.5" y="126.6" width="73.5" height="74" fill="none" stroke="#000" stroke-width="1.3"/>
<rect x="430.2" y="126.6" width="73.3" height="73" fill="none" stroke="#000" stroke-width="1.3"/>
<rect x="338" y="35" width="39.4" height="29.7" fill="none" stroke="#000" stroke-width="0.9"/>
<rect x="338" y="128.6" width="39.4" height="28.6" fill="none" stroke="#000" stroke-width="0.9"/>
<rect x="453" y="46.4" width="20" height="28" fill="none" stroke="#000" stroke-width="1.1"/>
<rect x="431" y="74.4" width="22" height="22.6" fill="none" stroke="#000" stroke-width="1.1"/>
<rect x="453" y="74.4" width="20" height="22.6" fill="none" stroke="#000" stroke-width="1.1"/>
<rect x="453" y="141.4" width="20" height="27.6" fill="none" stroke="#000" stroke-width="1.1"/>
<rect x="431" y="169" width="21.8" height="24" fill="none" stroke="#000" stroke-width="1.1"/>
<rect x="452.8" y="169" width="20.2" height="24" fill="none" stroke="#000" stroke-width="1.1"/>
<line x1="380" y1="40.5" x2="417" y2="40.5" stroke="#000" stroke-width="1.3"/>
<path d="M414.6,36.7 L429,40.5 L414.6,44.3 Z" fill="#000"/>
<line x1="380" y1="135.7" x2="417" y2="135.7" stroke="#000" stroke-width="1.3"/>
<path d="M414.6,131.89999999999998 L429,135.7 L414.6,139.5 Z" fill="#000"/>
<text x="462.9" y="53.8" font-size="7.2" text-anchor="middle">0.46</text>
<text x="436.8" y="95.6" font-size="7.2" text-anchor="middle">0.14</text>
<text x="465.6" y="95.6" font-size="7.2" text-anchor="middle">0.2</text>
<text x="463" y="149.4" font-size="7.2" text-anchor="middle">0.99</text>
<text x="438.9" y="190.5" font-size="7.2" text-anchor="middle">0.24</text>
<text x="465.8" y="190.5" font-size="7.2" text-anchor="middle">0.29</text>
<line x1="62.5" y1="242.70000000000002" x2="62.5" y2="385.40000000000003" stroke="#000" stroke-width="1.3"/>
<line x1="61.9" y1="384.8" x2="232.5" y2="384.8" stroke="#000" stroke-width="1.4"/>
<line x1="58.7" y1="384.8" x2="62.5" y2="384.8" stroke="#000" stroke-width="1.2"/>
<text x="58.3" y="387.90000000000003" font-size="8.6" text-anchor="end">0</text>
<line x1="58.7" y1="356.5" x2="62.5" y2="356.5" stroke="#000" stroke-width="1.2"/>
<text x="58.3" y="359.6" font-size="8.6" text-anchor="end">1</text>
<line x1="58.7" y1="328.2" x2="62.5" y2="328.2" stroke="#000" stroke-width="1.2"/>
<text x="58.3" y="331.3" font-size="8.6" text-anchor="end">2</text>
<line x1="58.7" y1="299.9" x2="62.5" y2="299.9" stroke="#000" stroke-width="1.2"/>
<text x="58.3" y="303.0" font-size="8.6" text-anchor="end">3</text>
<line x1="58.7" y1="271.6" x2="62.5" y2="271.6" stroke="#000" stroke-width="1.2"/>
<text x="58.3" y="274.70000000000005" font-size="8.6" text-anchor="end">4</text>
<line x1="58.7" y1="243.3" x2="62.5" y2="243.3" stroke="#000" stroke-width="1.2"/>
<text x="58.3" y="246.4" font-size="8.6" text-anchor="end">5</text>
<line x1="83.7" y1="384.8" x2="83.7" y2="387.0" stroke="#000" stroke-width="1.2"/>
<text x="83.7" y="397" font-size="8.7" text-anchor="middle">MP</text>
<line x1="75.7" y1="360.17900000000003" x2="75.7" y2="357.915" stroke="#000" stroke-width="1.7"/>
<line x1="72.60000000000001" y1="357.915" x2="78.8" y2="357.915" stroke="#000" stroke-width="1.5"/>
<rect x="70.60" y="360.88" width="10.20" height="23.92" fill="#fff" stroke="#000" stroke-width="1.4"/>
<line x1="91.45" y1="301.881" x2="91.45" y2="271.034" stroke="#000" stroke-width="1.7"/>
<line x1="88.35000000000001" y1="271.034" x2="94.55" y2="271.034" stroke="#000" stroke-width="1.5"/>
<rect x="86.30" y="302.58" width="10.30" height="82.22" fill="#000" stroke="#000" stroke-width="1.4"/>
<line x1="126.2" y1="384.8" x2="126.2" y2="387.0" stroke="#000" stroke-width="1.2"/>
<text x="126.2" y="397" font-size="8.7" text-anchor="middle">CMP</text>
<line x1="118.2" y1="378.574" x2="118.2" y2="377.159" stroke="#000" stroke-width="1.7"/>
<line x1="115.10000000000001" y1="377.159" x2="121.3" y2="377.159" stroke="#000" stroke-width="1.5"/>
<rect x="113.10" y="379.27" width="10.20" height="5.53" fill="#fff" stroke="#000" stroke-width="1.4"/>
<line x1="133.95" y1="377.442" x2="133.95" y2="376.027" stroke="#000" stroke-width="1.7"/>
<line x1="130.85" y1="376.027" x2="137.04999999999998" y2="376.027" stroke="#000" stroke-width="1.5"/>
<rect x="128.80" y="378.14" width="10.30" height="6.66" fill="#000" stroke="#000" stroke-width="1.4"/>
<line x1="168.2" y1="384.8" x2="168.2" y2="387.0" stroke="#000" stroke-width="1.2"/>
<text x="168.2" y="397" font-size="8.7" text-anchor="middle">GMP</text>
<line x1="160.2" y1="377.159" x2="160.2" y2="376.027" stroke="#000" stroke-width="1.7"/>
<line x1="157.1" y1="376.027" x2="163.29999999999998" y2="376.027" stroke="#000" stroke-width="1.5"/>
<rect x="155.10" y="377.86" width="10.20" height="6.94" fill="#fff" stroke="#000" stroke-width="1.4"/>
<line x1="175.95" y1="366.122" x2="175.95" y2="363.009" stroke="#000" stroke-width="1.7"/>
<line x1="172.85" y1="363.009" x2="179.04999999999998" y2="363.009" stroke="#000" stroke-width="1.5"/>
<rect x="170.80" y="366.82" width="10.30" height="17.98" fill="#000" stroke="#000" stroke-width="1.4"/>
<line x1="210.2" y1="384.8" x2="210.2" y2="387.0" stroke="#000" stroke-width="1.2"/>
<text x="210.2" y="397" font-size="8.7" text-anchor="middle">MEP</text>
<line x1="202.2" y1="381.97" x2="202.2" y2="381.404" stroke="#000" stroke-width="1.7"/>
<line x1="199.1" y1="381.404" x2="205.29999999999998" y2="381.404" stroke="#000" stroke-width="1.5"/>
<rect x="197.10" y="382.67" width="10.20" height="2.13" fill="#fff" stroke="#000" stroke-width="1.4"/>
<line x1="217.95" y1="379.423" x2="217.95" y2="378.857" stroke="#000" stroke-width="1.7"/>
<line x1="214.85" y1="378.857" x2="221.04999999999998" y2="378.857" stroke="#000" stroke-width="1.5"/>
<rect x="212.80" y="380.12" width="10.30" height="4.68" fill="#000" stroke="#000" stroke-width="1.4"/>
<path d="M92.30,259.30 L92.30,256.60 M92.30,259.30 L94.87,258.47 M92.30,259.30 L93.89,261.48 M92.30,259.30 L90.71,261.48 M92.30,259.30 L89.73,258.47 " stroke="#000" stroke-width="1.3" stroke-linecap="round" fill="none"/>
<path d="M177.00,353.80 L177.00,351.10 M177.00,353.80 L179.57,352.97 M177.00,353.80 L178.59,355.98 M177.00,353.80 L175.41,355.98 M177.00,353.80 L174.43,352.97 " stroke="#000" stroke-width="1.3" stroke-linecap="round" fill="none"/>
<rect x="137.5" y="296.2" width="12.6" height="6.6" fill="#fff" stroke="#000" stroke-width="1.4"/>
<rect x="136.8" y="309.3" width="14" height="8" fill="#000"/>
<text x="157.3" y="302.9" font-size="8.9" text-anchor="start">Control</text>
<text x="157.3" y="316.9" font-size="8.7" text-anchor="start">CMML</text>
<text x="48.4" y="309.8" font-size="9.5" text-anchor="middle" transform="rotate(-90 48.4 309.8)">Percentage of total BM cells (%)</text>
<line x1="344.7" y1="237.9" x2="344.7" y2="384.90000000000003" stroke="#000" stroke-width="1.3"/>
<line x1="344.09999999999997" y1="384.3" x2="518.3" y2="384.3" stroke="#000" stroke-width="1.4"/>
<line x1="340.9" y1="384.3" x2="344.7" y2="384.3" stroke="#000" stroke-width="1.2"/>
<text x="340.5" y="387.40000000000003" font-size="8.6" text-anchor="end">0</text>
<line x1="340.9" y1="360.0" x2="344.7" y2="360.0" stroke="#000" stroke-width="1.2"/>
<text x="340.5" y="363.1" font-size="8.6" text-anchor="end">1</text>
<line x1="340.9" y1="335.7" x2="344.7" y2="335.7" stroke="#000" stroke-width="1.2"/>
<text x="340.5" y="338.8" font-size="8.6" text-anchor="end">2</text>
<line x1="340.9" y1="311.4" x2="344.7" y2="311.4" stroke="#000" stroke-width="1.2"/>
<text x="340.5" y="314.5" font-size="8.6" text-anchor="end">3</text>
<line x1="340.9" y1="287.1" x2="344.7" y2="287.1" stroke="#000" stroke-width="1.2"/>
<text x="340.5" y="290.20000000000005" font-size="8.6" text-anchor="end">4</text>
<line x1="340.9" y1="262.8" x2="344.7" y2="262.8" stroke="#000" stroke-width="1.2"/>
<text x="340.5" y="265.90000000000003" font-size="8.6" text-anchor="end">5</text>
<line x1="340.9" y1="238.5" x2="344.7" y2="238.5" stroke="#000" stroke-width="1.2"/>
<text x="340.5" y="241.6" font-size="8.6" text-anchor="end">6</text>
<line x1="366.1" y1="384.3" x2="366.1" y2="386.5" stroke="#000" stroke-width="1.2"/>
<text x="366.1" y="397" font-size="8.7" text-anchor="middle">MP</text>
<line x1="358.1" y1="372.879" x2="358.1" y2="371.664" stroke="#000" stroke-width="1.7"/>
<line x1="355.0" y1="371.664" x2="361.20000000000005" y2="371.664" stroke="#000" stroke-width="1.5"/>
<rect x="353.00" y="373.58" width="10.20" height="10.72" fill="#fff" stroke="#000" stroke-width="1.4"/>
<line x1="373.85" y1="286.61400000000003" x2="373.85" y2="253.566" stroke="#000" stroke-width="1.7"/>
<line x1="370.75" y1="253.566" x2="376.95000000000005" y2="253.566" stroke="#000" stroke-width="1.5"/>
<rect x="368.70" y="287.31" width="10.30" height="96.99" fill="#000" stroke="#000" stroke-width="1.4"/>
<line x1="409.3" y1="384.3" x2="409.3" y2="386.5" stroke="#000" stroke-width="1.2"/>
<text x="409.3" y="397" font-size="8.7" text-anchor="middle">CMP</text>
<line x1="401.3" y1="380.898" x2="401.3" y2="380.41200000000003" stroke="#000" stroke-width="1.7"/>
<line x1="398.2" y1="380.41200000000003" x2="404.40000000000003" y2="380.41200000000003" stroke="#000" stroke-width="1.5"/>
<rect x="396.20" y="381.60" width="10.20" height="2.70" fill="#fff" stroke="#000" stroke-width="1.4"/>
<line x1="417.05" y1="378.225" x2="417.05" y2="377.253" stroke="#000" stroke-width="1.7"/>
<line x1="413.95" y1="377.253" x2="420.15000000000003" y2="377.253" stroke="#000" stroke-width="1.5"/>
<rect x="411.90" y="378.93" width="10.30" height="5.37" fill="#000" stroke="#000" stroke-width="1.4"/>
<line x1="452.6" y1="384.3" x2="452.6" y2="386.5" stroke="#000" stroke-width="1.2"/>
<text x="452.6" y="397" font-size="8.7" text-anchor="middle">GMP</text>
<line x1="444.6" y1="380.169" x2="444.6" y2="379.683" stroke="#000" stroke-width="1.7"/>
<line x1="441.5" y1="379.683" x2="447.70000000000005" y2="379.683" stroke="#000" stroke-width="1.5"/>
<rect x="439.50" y="380.87" width="10.20" height="3.43" fill="#fff" stroke="#000" stroke-width="1.4"/>
<line x1="460.35" y1="371.178" x2="460.35" y2="367.047" stroke="#000" stroke-width="1.7"/>
<line x1="457.25" y1="367.047" x2="463.45000000000005" y2="367.047" stroke="#000" stroke-width="1.5"/>
<rect x="455.20" y="371.88" width="10.30" height="12.42" fill="#000" stroke="#000" stroke-width="1.4"/>
<line x1="495.9" y1="384.3" x2="495.9" y2="386.5" stroke="#000" stroke-width="1.2"/>
<text x="495.9" y="397" font-size="8.7" text-anchor="middle">MEP</text>
<line x1="487.9" y1="383.08500000000004" x2="487.9" y2="382.842" stroke="#000" stroke-width="1.7"/>
<line x1="484.79999999999995" y1="382.842" x2="491.0" y2="382.842" stroke="#000" stroke-width="1.5"/>
<rect x="482.80" y="383.79" width="10.20" height="0.51" fill="#fff" stroke="#000" stroke-width="1.4"/>
<line x1="503.65" y1="380.41200000000003" x2="503.65" y2="379.44" stroke="#000" stroke-width="1.7"/>
<line x1="500.54999999999995" y1="379.44" x2="506.75" y2="379.44" stroke="#000" stroke-width="1.5"/>
<rect x="498.50" y="381.11" width="10.30" height="3.19" fill="#000" stroke="#000" stroke-width="1.4"/>
<path d="M375.30,241.60 L375.30,238.90 M375.30,241.60 L377.87,240.77 M375.30,241.60 L376.89,243.78 M375.30,241.60 L373.71,243.78 M375.30,241.60 L372.73,240.77 " stroke="#000" stroke-width="1.3" stroke-linecap="round" fill="none"/>
<path d="M418.20,368.80 L418.20,366.10 M418.20,368.80 L420.77,367.97 M418.20,368.80 L419.79,370.98 M418.20,368.80 L416.61,370.98 M418.20,368.80 L415.63,367.97 " stroke="#000" stroke-width="1.3" stroke-linecap="round" fill="none"/>
<path d="M460.50,360.00 L460.50,357.30 M460.50,360.00 L463.07,359.17 M460.50,360.00 L462.09,362.18 M460.50,360.00 L458.91,362.18 M460.50,360.00 L457.93,359.17 " stroke="#000" stroke-width="1.3" stroke-linecap="round" fill="none"/>
<path d="M503.80,372.20 L503.80,369.50 M503.80,372.20 L506.37,371.37 M503.80,372.20 L505.39,374.38 M503.80,372.20 L502.21,374.38 M503.80,372.20 L501.23,371.37 " stroke="#000" stroke-width="1.3" stroke-linecap="round" fill="none"/>
<rect x="421.3" y="293.59999999999997" width="12.4" height="6.699999999999999" fill="#fff" stroke="#000" stroke-width="1.4"/>
<rect x="420.6" y="306.3" width="13.8" height="8.1" fill="#000"/>
<text x="441.5" y="300.2" font-size="8.9" text-anchor="start">Control</text>
<text x="441.5" y="313.7" font-size="8.7" text-anchor="start">CMML</text>
<text x="329.6" y="311" font-size="9.3" text-anchor="middle" transform="rotate(-90 329.6 311)">Absolute cell numbers (million)</text>
</svg></body></html>
